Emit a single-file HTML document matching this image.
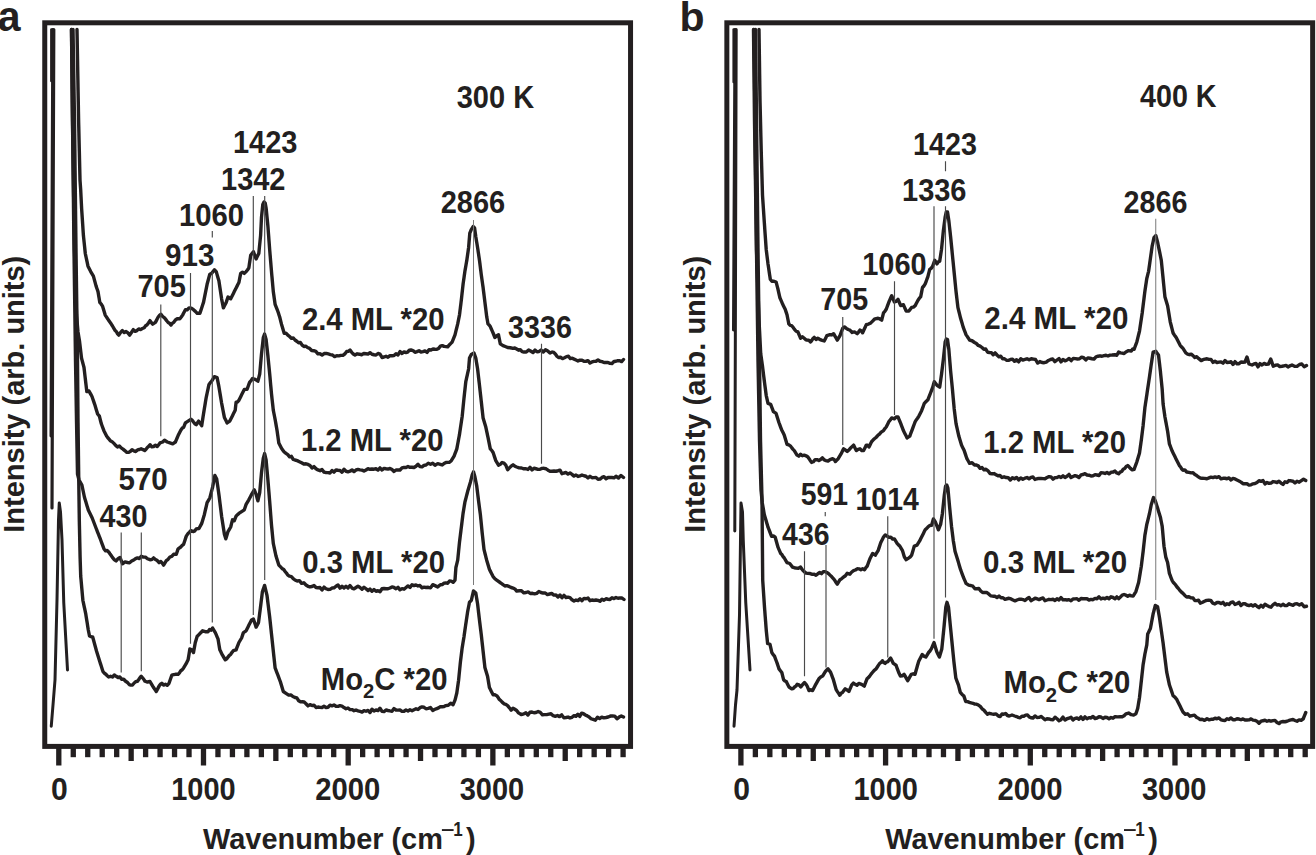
<!DOCTYPE html><html><head><meta charset="utf-8"><style>html,body{margin:0;padding:0;background:#fff;}svg{display:block;}</style></head><body>
<svg width="1316" height="855" viewBox="0 0 1316 855" font-family="&quot;Liberation Sans&quot;, sans-serif" font-weight="bold" fill="#231f20">
<rect x="44.75" y="22.8" width="585.8" height="723.6" fill="none" stroke="#231f20" stroke-width="5"/>
<rect x="56.15" y="748" width="5.3" height="17.5"/>
<rect x="70.62" y="748" width="5.3" height="9.2"/>
<rect x="85.09" y="748" width="5.3" height="9.2"/>
<rect x="99.56" y="748" width="5.3" height="9.2"/>
<rect x="114.03" y="748" width="5.3" height="9.2"/>
<rect x="128.5" y="748" width="5.3" height="13"/>
<rect x="142.96" y="748" width="5.3" height="9.2"/>
<rect x="157.43" y="748" width="5.3" height="9.2"/>
<rect x="171.9" y="748" width="5.3" height="9.2"/>
<rect x="186.37" y="748" width="5.3" height="9.2"/>
<rect x="200.84" y="748" width="5.3" height="17.5"/>
<rect x="215.31" y="748" width="5.3" height="9.2"/>
<rect x="229.78" y="748" width="5.3" height="9.2"/>
<rect x="244.25" y="748" width="5.3" height="9.2"/>
<rect x="258.72" y="748" width="5.3" height="9.2"/>
<rect x="273.19" y="748" width="5.3" height="13"/>
<rect x="287.65" y="748" width="5.3" height="9.2"/>
<rect x="302.12" y="748" width="5.3" height="9.2"/>
<rect x="316.59" y="748" width="5.3" height="9.2"/>
<rect x="331.06" y="748" width="5.3" height="9.2"/>
<rect x="345.53" y="748" width="5.3" height="17.5"/>
<rect x="360" y="748" width="5.3" height="9.2"/>
<rect x="374.47" y="748" width="5.3" height="9.2"/>
<rect x="388.94" y="748" width="5.3" height="9.2"/>
<rect x="403.41" y="748" width="5.3" height="9.2"/>
<rect x="417.88" y="748" width="5.3" height="13"/>
<rect x="432.34" y="748" width="5.3" height="9.2"/>
<rect x="446.81" y="748" width="5.3" height="9.2"/>
<rect x="461.28" y="748" width="5.3" height="9.2"/>
<rect x="475.75" y="748" width="5.3" height="9.2"/>
<rect x="490.22" y="748" width="5.3" height="17.5"/>
<rect x="504.69" y="748" width="5.3" height="9.2"/>
<rect x="519.16" y="748" width="5.3" height="9.2"/>
<rect x="533.63" y="748" width="5.3" height="9.2"/>
<rect x="548.1" y="748" width="5.3" height="9.2"/>
<rect x="562.57" y="748" width="5.3" height="13"/>
<rect x="577.03" y="748" width="5.3" height="9.2"/>
<rect x="591.5" y="748" width="5.3" height="9.2"/>
<rect x="605.97" y="748" width="5.3" height="9.2"/>
<rect x="620.44" y="748" width="5.3" height="9.2"/>
<text transform="translate(203.1,848.5) scale(0.997,1.03)" font-size="29">Wavenumber (cm</text>
<rect x="441.9" y="829.1" width="11.7" height="1.9"/>
<text x="-6" y="0" font-size="20" transform="translate(458.35,835.5) scale(0.85,1.04)">1</text>
<text x="466.1" y="848.5" font-size="29" transform="scale(1,1.0)">)</text>
<text transform="translate(23.9,532.7) rotate(-90) scale(1,1.03)" font-size="29">Intensity (arb. units)</text>
<rect x="726.85" y="22.8" width="585.8" height="723.6" fill="none" stroke="#231f20" stroke-width="5"/>
<rect x="738.25" y="748" width="5.3" height="17.5"/>
<rect x="752.72" y="748" width="5.3" height="9.2"/>
<rect x="767.19" y="748" width="5.3" height="9.2"/>
<rect x="781.66" y="748" width="5.3" height="9.2"/>
<rect x="796.13" y="748" width="5.3" height="9.2"/>
<rect x="810.6" y="748" width="5.3" height="13"/>
<rect x="825.06" y="748" width="5.3" height="9.2"/>
<rect x="839.53" y="748" width="5.3" height="9.2"/>
<rect x="854" y="748" width="5.3" height="9.2"/>
<rect x="868.47" y="748" width="5.3" height="9.2"/>
<rect x="882.94" y="748" width="5.3" height="17.5"/>
<rect x="897.41" y="748" width="5.3" height="9.2"/>
<rect x="911.88" y="748" width="5.3" height="9.2"/>
<rect x="926.35" y="748" width="5.3" height="9.2"/>
<rect x="940.82" y="748" width="5.3" height="9.2"/>
<rect x="955.28" y="748" width="5.3" height="13"/>
<rect x="969.75" y="748" width="5.3" height="9.2"/>
<rect x="984.22" y="748" width="5.3" height="9.2"/>
<rect x="998.69" y="748" width="5.3" height="9.2"/>
<rect x="1013.16" y="748" width="5.3" height="9.2"/>
<rect x="1027.63" y="748" width="5.3" height="17.5"/>
<rect x="1042.1" y="748" width="5.3" height="9.2"/>
<rect x="1056.57" y="748" width="5.3" height="9.2"/>
<rect x="1071.04" y="748" width="5.3" height="9.2"/>
<rect x="1085.51" y="748" width="5.3" height="9.2"/>
<rect x="1099.97" y="748" width="5.3" height="13"/>
<rect x="1114.44" y="748" width="5.3" height="9.2"/>
<rect x="1128.91" y="748" width="5.3" height="9.2"/>
<rect x="1143.38" y="748" width="5.3" height="9.2"/>
<rect x="1157.85" y="748" width="5.3" height="9.2"/>
<rect x="1172.32" y="748" width="5.3" height="17.5"/>
<rect x="1186.79" y="748" width="5.3" height="9.2"/>
<rect x="1201.26" y="748" width="5.3" height="9.2"/>
<rect x="1215.73" y="748" width="5.3" height="9.2"/>
<rect x="1230.2" y="748" width="5.3" height="9.2"/>
<rect x="1244.66" y="748" width="5.3" height="13"/>
<rect x="1259.13" y="748" width="5.3" height="9.2"/>
<rect x="1273.6" y="748" width="5.3" height="9.2"/>
<rect x="1288.07" y="748" width="5.3" height="9.2"/>
<rect x="1302.54" y="748" width="5.3" height="9.2"/>
<text transform="translate(885.2,848.5) scale(0.997,1.03)" font-size="29">Wavenumber (cm</text>
<rect x="1124" y="829.1" width="11.7" height="1.9"/>
<text x="-6" y="0" font-size="20" transform="translate(1140.45,835.5) scale(0.85,1.04)">1</text>
<text x="1148.2" y="848.5" font-size="29" transform="scale(1,1.0)">)</text>
<text transform="translate(704.9,532.7) rotate(-90) scale(1,1.03)" font-size="29">Intensity (arb. units)</text>
<text transform="translate(-2.2,31.1) scale(1,1.04)" font-size="41">a</text>
<text transform="translate(679.5,31) scale(1,1)" font-size="41">b</text>
<path d="M53.8 29.5 L52 508" fill="none" stroke="#231f20" stroke-width="3.2" stroke-linejoin="round" stroke-linecap="round"/>
<path d="M52.8 29.5 L51 436" fill="none" stroke="#231f20" stroke-width="3" stroke-linejoin="round" stroke-linecap="round"/>
<path d="M51.4 29.5 L51.4 81" fill="none" stroke="#231f20" stroke-width="2.6" stroke-linejoin="round" stroke-linecap="round"/>
<path d="M736.2 29.5 L734.8 531" fill="none" stroke="#231f20" stroke-width="3" stroke-linejoin="round" stroke-linecap="round"/>
<path d="M735 29.5 L733.5 330" fill="none" stroke="#231f20" stroke-width="3" stroke-linejoin="round" stroke-linecap="round"/>
<path d="M733.6 29.5 L733.6 82" fill="none" stroke="#231f20" stroke-width="2.4" stroke-linejoin="round" stroke-linecap="round"/>
<path d="M51.25 726.25 L53 705 L55 680 L57 600 L58.5 520 L59.25 503 L60.5 512 L62 540 L63.75 602.5 L67.5 670" fill="none" stroke="#231f20" stroke-width="3" stroke-linejoin="round" stroke-linecap="round"/>
<path d="M734 726.25 L735.5 705 L737 690 L739.5 615 L740.5 540 L741 503 L742.5 512 L743.25 540 L745.75 602.5 L750 670" fill="none" stroke="#231f20" stroke-width="3" stroke-linejoin="round" stroke-linecap="round"/>
<path d="M73 29.5 L73.04 31.71 L73.07 33.91 L73.11 36.12 L73.15 38.33 L73.18 40.54 L73.22 42.74 L73.26 44.95 L73.29 47.16 L73.33 49.37 L73.37 51.57 L73.4 53.78 L73.44 55.99 L73.48 58.2 L73.51 60.4 L73.55 62.61 L73.59 64.82 L73.62 67.02 L73.66 69.23 L73.7 71.44 L73.73 73.65 L73.77 75.85 L73.8 78.06 L73.84 80.27 L73.88 82.48 L73.91 84.68 L73.95 86.89 L73.99 89.1 L74.02 91.3 L74.06 93.51 L74.1 95.72 L74.13 97.93 L74.17 100.13 L74.21 102.34 L74.24 104.55 L74.28 106.76 L74.32 108.96 L74.35 111.17 L74.39 113.38 L74.43 115.59 L74.46 117.79 L74.5 120 L74.53 122.2 L74.55 124.41 L74.58 126.61 L74.6 128.81 L74.63 131.02 L74.65 133.22 L74.68 135.42 L74.7 137.63 L74.73 139.83 L74.75 142.03 L74.78 144.24 L74.81 146.44 L74.83 148.64 L74.86 150.85 L74.88 153.05 L74.91 155.25 L74.93 157.46 L74.96 159.66 L74.98 161.86 L75.01 164.07 L75.03 166.27 L75.06 168.47 L75.08 170.68 L75.11 172.88 L75.14 175.08 L75.16 177.29 L75.19 179.49 L75.21 181.69 L75.24 183.9 L75.26 186.1 L75.29 188.31 L75.31 190.51 L75.34 192.71 L75.36 194.92 L75.39 197.12 L75.42 199.32 L75.44 201.53 L75.47 203.73 L75.49 205.93 L75.52 208.14 L75.54 210.34 L75.57 212.54 L75.59 214.75 L75.62 216.95 L75.64 219.15 L75.67 221.36 L75.69 223.56 L75.72 225.76 L75.75 227.97 L75.77 230.17 L75.8 232.37 L75.82 234.58 L75.85 236.78 L75.87 238.98 L75.9 241.19 L75.92 243.39 L75.95 245.59 L75.97 247.8 L76 250 L76.03 252.2 L76.06 254.4 L76.09 256.6 L76.12 258.8 L76.15 261 L76.18 263.2 L76.21 265.4 L76.24 267.6 L76.27 269.8 L76.3 272 L76.33 274.2 L76.36 276.4 L76.39 278.6 L76.42 280.8 L76.45 283 L76.48 285.2 L76.51 287.4 L76.54 289.6 L76.57 291.8 L76.6 294 L76.63 296.2 L76.66 298.4 L76.69 300.6 L76.72 302.8 L76.75 305 L76.78 307.2 L76.81 309.4 L76.84 311.6 L76.87 313.8 L76.9 316 L76.93 318.2 L76.96 320.4 L76.99 322.6 L77.02 324.8 L77.05 327 L77.08 329.2 L77.11 331.4 L77.14 333.6 L77.17 335.8 L77.2 338 L77.23 340.2 L77.26 342.4 L77.29 344.6 L77.32 346.8 L77.35 349 L77.38 351.2 L77.41 353.4 L77.44 355.6 L77.47 357.8 L77.5 360 L77.52 362.22 L77.54 364.44 L77.56 366.67 L77.57 368.89 L77.59 371.11 L77.61 373.33 L77.63 375.56 L77.65 377.78 L77.67 380 L77.69 382.22 L77.7 384.44 L77.72 386.67 L77.74 388.89 L77.76 391.11 L77.78 393.33 L77.8 395.56 L77.81 397.78 L77.83 400 L77.85 402.22 L77.87 404.44 L77.89 406.67 L77.91 408.89 L77.93 411.11 L77.94 413.33 L77.96 415.56 L77.98 417.78 L78 420 L78.03 422.21 L78.06 424.41 L78.08 426.62 L78.11 428.83 L78.14 431.03 L78.17 433.24 L78.19 435.45 L78.22 437.66 L78.25 439.86 L78.28 442.07 L78.3 444.28 L78.33 446.48 L78.36 448.69 L78.39 450.9 L78.41 453.1 L78.44 455.31 L78.47 457.52 L78.5 459.72 L78.52 461.93 L78.55 464.14 L78.58 466.34 L78.61 468.55 L78.63 470.76 L78.66 472.97 L78.69 475.17 L78.72 477.38 L78.74 479.59 L78.77 481.79 L78.8 484 L78.83 486.25 L78.86 488.5 L78.89 490.75 L78.92 493 L78.96 495.25 L78.99 497.5 L79.02 499.75 L79.05 502 L79.08 504.25 L79.11 506.5 L79.14 508.75 L79.17 511 L79.21 513.25 L79.24 515.5 L79.27 517.75 L79.3 520 L79.35 522.18 L79.39 524.35 L79.44 526.53 L79.49 528.71 L79.54 530.88 L79.58 533.06 L79.63 535.24 L79.68 537.41 L79.72 539.59 L79.77 541.76 L79.82 543.94 L79.86 546.12 L79.91 548.29 L79.96 550.47 L80.01 552.65 L80.05 554.82 L80.1 557 L80.17 559.11 L80.23 561.22 L80.3 563.33 L80.37 565.44 L80.43 567.56 L80.5 569.67 L80.57 571.78 L80.63 573.89 L80.7 576 L80.9 578.23 L81.1 580.45 L81.3 582.68 L81.5 584.91 L81.7 587.14 L81.9 589.36 L82.1 591.59 L82.3 593.82 L82.5 596.05 L82.7 598.27 L82.9 600.5 L83.37 602.68 L83.83 604.87 L84.3 607.05 L84.77 609.23 L85.23 611.42 L85.7 613.6 L86.03 615.65 L86.35 617.7 L86.67 619.75 L87 621.8 L87.33 623.85 L87.65 625.9 L87.97 627.95 L88.3 630 L88.7 632 L89.1 634 L89.5 636 L91.1 636.68 L92.7 637 L93.24 639 L93.79 641 L94.33 643 L94.87 645 L95.41 647 L95.96 649 L96.5 651 L97.2 653.25 L97.9 655.5 L98.6 657.75 L99.3 660 L99.92 661.93 L100.53 663.87 L101.15 665.8 L101.77 667.73 L102.38 669.67 L103 671.6 L104.42 673.26 L105.85 674.22 L107.28 675.7 L108.7 677 L110.57 676.27 L112.43 677.04 L114.3 675 L116.17 676.29 L118.03 677.5 L119.9 677 L121.8 679.34 L123.7 679.22 L125.6 681.26 L127.5 682.5 L129.17 684.55 L130.83 685.1 L132.5 685 L134.17 682.98 L135.83 681.7 L137.5 681.25 L138.75 679.54 L140 677.63 L141.25 676.25 L142.5 677.74 L143.75 679.3 L145 681.25 L147.5 682.03 L150 681.5 L151.35 683.8 L152.7 686.1 L153.9 688 L155.1 689.61 L156.3 691.5 L157.23 689.7 L158.17 687.9 L159.1 686.1 L160.45 684.2 L161.8 683.3 L163.6 685.07 L165.4 684.3 L167.2 685.35 L169 683.3 L169.7 681.27 L170.4 679.25 L171.1 677.23 L171.8 675.2 L173.6 674.71 L175.4 674.3 L178.1 674.3 L179.45 672.83 L180.8 670.7 L182.2 669.8 L183.6 667.9 L184.95 665.65 L186.3 663.4 L187.2 661.6 L188.1 659.8 L188.46 657.62 L188.82 655.44 L189.18 653.26 L189.54 651.08 L189.9 648.9 L191.7 649.8 L193.5 652.5 L193.86 650.5 L194.22 648.5 L194.58 646.5 L194.94 644.5 L195.3 642.5 L195.93 640.4 L196.57 638.3 L197.2 636.2 L198.55 635.04 L199.9 633.5 L201.25 632.17 L202.6 630.8 L205.3 631.7 L208 631.7 L209.53 629.6 L211.07 630.2 L212.6 628 L213.95 630.3 L215.3 632.6 L216.2 634.7 L217.1 636.8 L218 638.9 L218.36 641.08 L218.72 643.26 L219.08 645.44 L219.44 647.62 L219.8 649.8 L220.7 651.6 L221.6 653.4 L222.5 655.2 L223.9 657.5 L225.3 659.8 L226.65 658.93 L228 657.1 L229.35 655.36 L230.7 654.3 L232.05 652.27 L233.4 650.7 L236.1 649.8 L236.8 647.97 L237.5 646.15 L238.2 644.33 L238.9 642.5 L240.25 640.25 L241.6 638 L242.2 636.2 L242.8 634.4 L243.4 632.6 L246.1 630.8 L247 628.97 L247.9 627.13 L248.8 625.3 L249.73 623.5 L250.67 621.7 L251.6 619.9 L253.4 619 L254.08 621.02 L254.75 623.05 L255.43 625.08 L256.1 627.1 L257.3 624.85 L258.5 622.6 L258.8 620.27 L259.1 617.94 L259.4 615.61 L259.7 613.29 L260 610.96 L260.3 608.63 L260.6 606.3 L260.86 604.23 L261.11 602.16 L261.37 600.09 L261.63 598.01 L261.89 595.94 L262.14 593.87 L262.4 591.8 L263.13 589.67 L263.87 587.53 L264.6 585.4 L265.08 587.4 L265.56 589.4 L266.04 591.4 L266.52 593.4 L267 595.4 L267.27 597.58 L267.54 599.76 L267.81 601.94 L268.08 604.12 L268.35 606.3 L268.62 608.48 L268.89 610.66 L269.16 612.84 L269.43 615.02 L269.7 617.2 L269.93 619.31 L270.15 621.42 L270.38 623.53 L270.6 625.63 L270.82 627.74 L271.05 629.85 L271.27 631.96 L271.5 634.07 L271.72 636.17 L271.95 638.28 L272.17 640.39 L272.4 642.5 L272.62 644.62 L272.85 646.73 L273.07 648.85 L273.3 650.97 L273.52 653.08 L273.75 655.2 L273.98 657.32 L274.2 659.43 L274.43 661.55 L274.65 663.67 L274.88 665.78 L275.1 667.9 L275.8 669.73 L276.5 671.55 L277.2 673.38 L277.9 675.2 L278.8 677.6 L279.7 680 L280.6 682.4 L281.28 684.67 L281.95 686.95 L282.62 689.23 L283.3 691.5 L286 693.3 L288.7 695.1 L290.8 694.86 L292.9 696.53 L295 697.5 L296.83 697.93 L298.67 700.77 L300.5 701.84 L302.33 701.79 L304.17 702.05 L306 703.75 L308 705.93 L310 704.67 L312 705.56 L314 705.22 L316 707.5 L318 707.03 L320 707.4 L322 707.51 L324 706.3 L326 707.5 L328 707.27 L330 705.17 L332 705.88 L334 704.99 L336 706.25 L338 706.41 L340 705.7 L342 706.14 L344 707.59 L346 708.75 L348 708.01 L350 709.57 L352 709.61 L354 710.67 L356 710 L358 710.83 L360 711.3 L362 712.15 L364 710.59 L366 711.25 L368 710.36 L370 712.54 L372 709.21 L374 711.08 L376 710 L378 710.57 L380 708.18 L382 711.34 L384 711.57 L386 710 L388 710.51 L390 710.94 L392 711.25 L394 708.56 L396 710 L398 710.1 L400 710.02 L402 711.34 L404 711.22 L406 710 L408 710.95 L410 709.81 L412 710.7 L414 709.67 L416 708.75 L418 709.52 L420 707.67 L422 706.87 L424 707.28 L426 708.75 L428.25 708.35 L430.5 707.51 L432.75 710.45 L435 709.3 L436.8 708.56 L438.6 707.85 L440.4 706.6 L442.23 706.71 L444.07 706.57 L445.9 705.6 L448.3 705.26 L450.7 703.17 L453.1 704.7 L454.05 702.45 L455 700.2 L455.6 697.8 L456.2 695.4 L456.8 693 L457.1 690.87 L457.4 688.73 L457.7 686.6 L458 684.47 L458.3 682.33 L458.6 680.2 L458.83 677.94 L459.05 675.68 L459.27 673.41 L459.5 671.15 L459.73 668.89 L459.95 666.62 L460.17 664.36 L460.4 662.1 L460.66 660.03 L460.91 657.96 L461.17 655.89 L461.43 653.81 L461.69 651.74 L461.94 649.67 L462.2 647.6 L462.56 645.42 L462.92 643.24 L463.28 641.06 L463.64 638.88 L464 636.7 L464.3 634.58 L464.6 632.47 L464.9 630.35 L465.2 628.23 L465.5 626.12 L465.8 624 L466.12 621.88 L466.43 619.77 L466.75 617.65 L467.07 615.53 L467.38 613.42 L467.7 611.3 L468.15 609.02 L468.6 606.75 L469.05 604.48 L469.5 602.2 L471.3 600.4 L471.85 598.05 L472.4 595.7 L472.95 593.35 L473.5 591 L475.8 593.1 L476.16 595.28 L476.52 597.46 L476.88 599.64 L477.24 601.82 L477.6 604 L477.84 606.05 L478.08 608.1 L478.31 610.15 L478.55 612.2 L478.79 614.25 L479.02 616.3 L479.26 618.35 L479.5 620.4 L479.76 622.47 L480.01 624.54 L480.27 626.61 L480.53 628.69 L480.79 630.76 L481.04 632.83 L481.3 634.9 L481.56 637.23 L481.81 639.56 L482.07 641.89 L482.33 644.21 L482.59 646.54 L482.84 648.87 L483.1 651.2 L483.36 653.53 L483.61 655.86 L483.87 658.19 L484.13 660.51 L484.39 662.84 L484.64 665.17 L484.9 667.5 L485.57 669.77 L486.25 672.05 L486.93 674.33 L487.6 676.6 L487.96 678.78 L488.32 680.96 L488.68 683.14 L489.04 685.32 L489.4 687.5 L490.32 689.33 L491.25 691.15 L492.18 692.97 L493.1 694.8 L494.9 694.82 L496.7 695.7 L497.9 697.11 L499.1 699.14 L500.3 700.2 L502.15 702.14 L504 703.8 L505.8 704.32 L507.6 705.6 L508.8 707.08 L510 708.49 L511.2 710.2 L513 708.23 L514.8 709.3 L516.65 710.48 L518.5 712.9 L521.2 714.55 L523.9 713.8 L525.92 712.78 L527.93 714.99 L529.95 712.21 L531.97 712.06 L533.98 712.76 L536 712.5 L538.14 711.5 L540.29 712.38 L542.43 714.77 L544.57 714.67 L546.71 714.58 L548.86 714.07 L551 713.75 L553.14 715.68 L555.29 716.31 L557.43 715.52 L559.57 716.63 L561.71 714.91 L563.86 717.75 L566 717.5 L568 717.07 L570 717.93 L572 717.28 L574 715.71 L576 716.25 L577.88 714.2 L579.75 716.35 L581.62 713.19 L583.5 713.75 L585.38 714.94 L587.25 715.89 L589.12 717.03 L591 718.75 L593.14 719.48 L595.29 720.2 L597.43 717.3 L599.57 718.63 L601.71 717.1 L603.86 717.9 L606 717.5 L608.19 717.02 L610.38 716.07 L612.56 715.98 L614.75 716.1 L616.94 718.78 L619.12 717.11 L621.31 715.96 L623.5 717" fill="none" stroke="#231f20" stroke-width="3.4" stroke-linejoin="round" stroke-linecap="round"/>
<path d="M71.5 29.5 L71.52 31.71 L71.55 33.91 L71.57 36.12 L71.6 38.33 L71.62 40.54 L71.65 42.74 L71.67 44.95 L71.7 47.16 L71.72 49.37 L71.74 51.57 L71.77 53.78 L71.79 55.99 L71.82 58.2 L71.84 60.4 L71.87 62.61 L71.89 64.82 L71.91 67.02 L71.94 69.23 L71.96 71.44 L71.99 73.65 L72.01 75.85 L72.04 78.06 L72.06 80.27 L72.09 82.48 L72.11 84.68 L72.13 86.89 L72.16 89.1 L72.18 91.3 L72.21 93.51 L72.23 95.72 L72.26 97.93 L72.28 100.13 L72.3 102.34 L72.33 104.55 L72.35 106.76 L72.38 108.96 L72.4 111.17 L72.43 113.38 L72.45 115.59 L72.48 117.79 L72.5 120 L72.53 122.2 L72.55 124.41 L72.58 126.61 L72.6 128.81 L72.63 131.02 L72.65 133.22 L72.68 135.42 L72.7 137.63 L72.73 139.83 L72.75 142.03 L72.78 144.24 L72.81 146.44 L72.83 148.64 L72.86 150.85 L72.88 153.05 L72.91 155.25 L72.93 157.46 L72.96 159.66 L72.98 161.86 L73.01 164.07 L73.03 166.27 L73.06 168.47 L73.08 170.68 L73.11 172.88 L73.14 175.08 L73.16 177.29 L73.19 179.49 L73.21 181.69 L73.24 183.9 L73.26 186.1 L73.29 188.31 L73.31 190.51 L73.34 192.71 L73.36 194.92 L73.39 197.12 L73.42 199.32 L73.44 201.53 L73.47 203.73 L73.49 205.93 L73.52 208.14 L73.54 210.34 L73.57 212.54 L73.59 214.75 L73.62 216.95 L73.64 219.15 L73.67 221.36 L73.69 223.56 L73.72 225.76 L73.75 227.97 L73.77 230.17 L73.8 232.37 L73.82 234.58 L73.85 236.78 L73.87 238.98 L73.9 241.19 L73.92 243.39 L73.95 245.59 L73.97 247.8 L74 250 L74.03 252.2 L74.06 254.4 L74.09 256.6 L74.12 258.8 L74.15 261 L74.18 263.2 L74.21 265.4 L74.24 267.6 L74.27 269.8 L74.3 272 L74.33 274.2 L74.36 276.4 L74.39 278.6 L74.42 280.8 L74.45 283 L74.48 285.2 L74.51 287.4 L74.54 289.6 L74.57 291.8 L74.6 294 L74.63 296.2 L74.66 298.4 L74.69 300.6 L74.72 302.8 L74.75 305 L74.78 307.2 L74.81 309.4 L74.84 311.6 L74.87 313.8 L74.9 316 L74.93 318.2 L74.96 320.4 L74.99 322.6 L75.02 324.8 L75.05 327 L75.08 329.2 L75.11 331.4 L75.14 333.6 L75.17 335.8 L75.2 338 L75.23 340.2 L75.26 342.4 L75.29 344.6 L75.32 346.8 L75.35 349 L75.38 351.2 L75.41 353.4 L75.44 355.6 L75.47 357.8 L75.5 360 L75.54 362.22 L75.57 364.44 L75.61 366.67 L75.65 368.89 L75.69 371.11 L75.72 373.33 L75.76 375.56 L75.8 377.78 L75.83 380 L75.87 382.22 L75.91 384.44 L75.94 386.67 L75.98 388.89 L76.02 391.11 L76.06 393.33 L76.09 395.56 L76.13 397.78 L76.17 400 L76.2 402.22 L76.24 404.44 L76.28 406.67 L76.31 408.89 L76.35 411.11 L76.39 413.33 L76.43 415.56 L76.46 417.78 L76.5 420 L76.54 422.16 L76.58 424.32 L76.62 426.48 L76.66 428.64 L76.7 430.8 L76.74 432.96 L76.78 435.12 L76.82 437.28 L76.86 439.44 L76.9 441.6 L76.94 443.76 L76.98 445.92 L77.02 448.08 L77.06 450.24 L77.1 452.4 L77.14 454.56 L77.18 456.72 L77.22 458.88 L77.26 461.04 L77.3 463.2 L77.34 465.36 L77.38 467.52 L77.42 469.68 L77.46 471.84 L77.5 474 L78 476 L78.5 478 L79 480 L79.97 481.67 L80.93 483.33 L81.9 485 L82.32 487 L82.73 489 L83.15 491 L83.57 493 L83.98 495 L84.4 497 L85.05 499.17 L85.7 501.33 L86.35 503.5 L87 505.67 L87.65 507.83 L88.3 510 L89.28 512 L90.25 514 L91.22 516 L92.2 518 L92.96 520 L93.72 522 L94.48 524 L95.24 526 L96 528 L96.84 530.14 L97.68 532.28 L98.52 534.42 L99.36 536.56 L100.2 538.7 L100.96 540.76 L101.72 542.82 L102.48 544.88 L103.24 546.94 L104 549 L105.57 550.82 L107.13 550.5 L108.7 552 L109.93 553.82 L111.17 555.56 L112.4 557.4 L114.25 559.57 L116.1 561 L118.05 558.72 L120 557.5 L120.83 559.58 L121.67 561.67 L122.5 563.75 L125 561.95 L127.5 562.5 L129.58 562.82 L131.67 561.07 L133.75 560 L135.62 558.58 L137.5 557.84 L139.38 558.54 L141.25 556.25 L143.33 557.11 L145.42 557.11 L147.5 558.75 L150 559.7 L151.8 559.65 L153.6 557.9 L155.45 559.58 L157.3 560.6 L159.1 562.71 L160.9 561.5 L162.25 563.03 L163.6 565.1 L164.95 562.85 L166.3 560.6 L168.1 559.28 L169.9 557 L171.75 556.39 L173.6 554.3 L176.3 554.3 L176.9 552.47 L177.5 550.63 L178.1 548.8 L180.8 547 L182.2 545.32 L183.6 544.3 L184.28 542.25 L184.95 540.2 L185.62 538.15 L186.3 536.1 L188.1 533.4 L189.45 532.17 L190.8 530.7 L193.5 531.6 L194.85 530.9 L196.2 528.9 L199 528.5 L199.9 526.8 L200.8 525.1 L201.7 523.4 L202.38 521.15 L203.05 518.9 L203.72 516.65 L204.4 514.4 L204.85 512.43 L205.3 510.47 L205.75 508.5 L206.2 506.53 L206.65 504.57 L207.1 502.6 L208.45 500.3 L209.8 498 L210.36 495.84 L210.92 493.68 L211.48 491.52 L212.04 489.36 L212.6 487.2 L213.06 484.84 L213.52 482.48 L213.98 480.12 L214.44 477.76 L214.9 475.4 L215.8 477.2 L216.7 479 L217.01 481.2 L217.33 483.4 L217.64 485.6 L217.96 487.8 L218.27 490 L218.59 492.2 L218.9 494.4 L219.17 496.58 L219.44 498.76 L219.71 500.94 L219.98 503.12 L220.25 505.3 L220.52 507.48 L220.79 509.66 L221.06 511.84 L221.33 514.02 L221.6 516.2 L221.95 518.46 L222.3 520.73 L222.65 522.99 L223 525.25 L223.35 527.51 L223.7 529.77 L224.05 532.04 L224.4 534.3 L225.1 536.55 L225.8 538.8 L226.53 536.4 L227.27 534 L228 531.6 L229.35 529.3 L230.7 527 L231.3 524.6 L231.9 522.2 L232.5 519.8 L234.3 520.7 L235.2 518.45 L236.1 516.2 L237.5 514.69 L238.9 513.4 L241.6 511.6 L244.3 509.8 L244.9 508 L245.5 506.2 L246.1 504.4 L247.45 502.1 L248.8 499.8 L249.73 498 L250.67 496.2 L251.6 494.4 L252.95 492.15 L254.3 489.9 L255.2 492.15 L256.1 494.4 L256.7 496.53 L257.3 498.67 L257.9 500.8 L258.35 498.75 L258.8 496.7 L259.25 494.65 L259.7 492.6 L259.9 490.38 L260.1 488.16 L260.3 485.93 L260.5 483.71 L260.7 481.49 L260.9 479.27 L261.1 477.04 L261.3 474.82 L261.5 472.6 L261.76 470.53 L262.01 468.46 L262.27 466.39 L262.53 464.31 L262.79 462.24 L263.04 460.17 L263.3 458.1 L263.95 455.85 L264.6 453.6 L265.1 455.73 L265.6 457.87 L266.1 460 L266.3 462.21 L266.5 464.42 L266.7 466.63 L266.9 468.84 L267.1 471.06 L267.3 473.27 L267.5 475.48 L267.7 477.69 L267.9 479.9 L268.08 482.08 L268.26 484.26 L268.44 486.44 L268.62 488.62 L268.8 490.8 L268.98 492.98 L269.16 495.16 L269.34 497.34 L269.52 499.52 L269.7 501.7 L269.86 503.84 L270.03 505.97 L270.19 508.11 L270.35 510.25 L270.52 512.38 L270.68 514.52 L270.85 516.65 L271.01 518.79 L271.17 520.93 L271.34 523.06 L271.5 525.2 L271.73 527.48 L271.95 529.75 L272.18 532.02 L272.4 534.3 L272.62 536.58 L272.85 538.85 L273.07 541.12 L273.3 543.4 L273.75 545.52 L274.2 547.63 L274.65 549.75 L275.1 551.87 L275.55 553.98 L276 556.1 L276.7 558.35 L277.4 560.6 L278.1 562.85 L278.8 565.1 L280.6 566.91 L282.4 568.8 L283.75 569.56 L285.1 571.5 L286.45 573.05 L287.8 575.1 L289.6 576.17 L291.4 576.61 L293.2 578.64 L295 580 L297.2 581.03 L299.4 580.68 L301.6 583.39 L303.8 582.8 L306 585 L308 586.29 L310 586.94 L312 586.54 L314 585.5 L316 587.5 L318 587.76 L320 587.55 L322 589.91 L324 587.16 L326 588.75 L328 589.46 L330 589.42 L332 588.03 L334 587.81 L336 586.25 L338 585.02 L340 588.18 L342 586.22 L344 588.08 L346 586.25 L348 588.03 L350 585.52 L352 588.06 L354 588.84 L356 587.5 L358 586.15 L360 587.45 L362 589.19 L364 587.24 L366 588.75 L368 590.59 L370 588.99 L372 591.32 L374 589.55 L376 591.25 L378 590.76 L380 591.67 L382 588.77 L384 588.45 L386 588.75 L388 588.77 L390 588.03 L392 586.9 L394 587.48 L396 588.75 L398 587.25 L400 589.86 L402 588.66 L404 589.21 L406 587.5 L408 585.88 L410 587.46 L412 584.7 L414 585.6 L416 585 L418 585.96 L420 585.53 L422 587.76 L424 587.19 L426 587.5 L428.25 587.3 L430.5 587.88 L432.75 584.7 L435 585.6 L437.7 586.92 L440.4 584.7 L442.23 584.51 L444.07 583.16 L445.9 582.9 L447.7 583.24 L449.5 580.96 L451.3 581.1 L453.15 582.31 L455 580.2 L455.15 578.08 L455.3 575.97 L455.45 573.85 L455.6 571.73 L455.75 569.62 L455.9 567.5 L456.5 565.07 L457.1 562.63 L457.7 560.2 L457.93 557.94 L458.15 555.68 L458.38 553.41 L458.6 551.15 L458.82 548.89 L459.05 546.62 L459.27 544.36 L459.5 542.1 L459.76 540.03 L460.01 537.96 L460.27 535.89 L460.53 533.81 L460.79 531.74 L461.04 529.67 L461.3 527.6 L461.56 525.53 L461.81 523.46 L462.07 521.39 L462.33 519.31 L462.59 517.24 L462.84 515.17 L463.1 513.1 L463.46 510.92 L463.82 508.74 L464.18 506.56 L464.54 504.38 L464.9 502.2 L465.46 500.02 L466.02 497.84 L466.58 495.66 L467.14 493.48 L467.7 491.3 L468.38 489.02 L469.05 486.75 L469.72 484.48 L470.4 482.2 L471 479.8 L471.6 477.4 L472.2 475 L472.85 473.4 L473.5 471.8 L474.2 474.3 L474.9 476.8 L475.35 479.05 L475.8 481.3 L476.25 483.55 L476.7 485.8 L476.96 487.89 L477.21 489.97 L477.47 492.06 L477.73 494.14 L477.99 496.23 L478.24 498.31 L478.5 500.4 L478.77 502.47 L479.04 504.54 L479.31 506.61 L479.59 508.69 L479.86 510.76 L480.13 512.83 L480.4 514.9 L480.62 517.16 L480.85 519.42 L481.07 521.69 L481.3 523.95 L481.52 526.21 L481.75 528.48 L481.97 530.74 L482.2 533 L482.46 535.34 L482.71 537.69 L482.97 540.03 L483.23 542.37 L483.49 544.71 L483.74 547.06 L484 549.4 L484.54 551.56 L485.08 553.72 L485.62 555.88 L486.16 558.04 L486.7 560.2 L487.38 562.48 L488.05 564.75 L488.72 567.02 L489.4 569.3 L490.32 571.12 L491.25 572.95 L492.18 574.77 L493.1 576.6 L494.9 578.77 L496.7 580.2 L499.4 582 L501.2 583.28 L503 584.7 L504.85 585.97 L506.7 585.6 L508.95 586.41 L511.2 587.5 L513.03 588.05 L514.87 588.97 L516.7 591.1 L519.1 590.8 L521.5 590.74 L523.9 592.9 L526 592.5 L528.14 591.84 L530.29 593.5 L532.43 593.28 L534.57 593.88 L536.71 593.35 L538.86 591.56 L541 592.5 L543.14 593.05 L545.29 592.99 L547.43 594.61 L549.57 594.01 L551.71 593.44 L553.86 595.15 L556 595 L558 597.07 L560 595.04 L562 597.78 L564 595.36 L566 597.5 L568 597.19 L570 597.61 L572 599.82 L574 601 L576 600 L578 600.66 L580 598.86 L582 600.65 L584 598.37 L586 598.75 L588 598.04 L590 600.75 L592 599.98 L594 600.46 L596 600 L598 600.36 L600 601.27 L602 599.14 L604 600.25 L606 598.75 L608 599.23 L610 599.57 L612 597.77 L614 598.58 L616 597.5 L618 598.24 L620 597.85 L622 598.03 L624 599.5" fill="none" stroke="#231f20" stroke-width="3.4" stroke-linejoin="round" stroke-linecap="round"/>
<path d="M71.5 29.5 L71.52 31.71 L71.55 33.91 L71.57 36.12 L71.6 38.33 L71.62 40.54 L71.65 42.74 L71.67 44.95 L71.7 47.16 L71.72 49.37 L71.74 51.57 L71.77 53.78 L71.79 55.99 L71.82 58.2 L71.84 60.4 L71.87 62.61 L71.89 64.82 L71.91 67.02 L71.94 69.23 L71.96 71.44 L71.99 73.65 L72.01 75.85 L72.04 78.06 L72.06 80.27 L72.09 82.48 L72.11 84.68 L72.13 86.89 L72.16 89.1 L72.18 91.3 L72.21 93.51 L72.23 95.72 L72.26 97.93 L72.28 100.13 L72.3 102.34 L72.33 104.55 L72.35 106.76 L72.38 108.96 L72.4 111.17 L72.43 113.38 L72.45 115.59 L72.48 117.79 L72.5 120 L72.53 122.2 L72.57 124.41 L72.6 126.61 L72.64 128.81 L72.67 131.02 L72.7 133.22 L72.74 135.42 L72.77 137.63 L72.81 139.83 L72.84 142.03 L72.87 144.24 L72.91 146.44 L72.94 148.64 L72.97 150.85 L73.01 153.05 L73.04 155.25 L73.08 157.46 L73.11 159.66 L73.14 161.86 L73.18 164.07 L73.21 166.27 L73.25 168.47 L73.28 170.68 L73.31 172.88 L73.35 175.08 L73.38 177.29 L73.42 179.49 L73.45 181.69 L73.48 183.9 L73.52 186.1 L73.55 188.31 L73.58 190.51 L73.62 192.71 L73.65 194.92 L73.69 197.12 L73.72 199.32 L73.75 201.53 L73.79 203.73 L73.82 205.93 L73.86 208.14 L73.89 210.34 L73.92 212.54 L73.96 214.75 L73.99 216.95 L74.03 219.15 L74.06 221.36 L74.09 223.56 L74.13 225.76 L74.16 227.97 L74.19 230.17 L74.23 232.37 L74.26 234.58 L74.3 236.78 L74.33 238.98 L74.36 241.19 L74.4 243.39 L74.43 245.59 L74.47 247.8 L74.5 250 L74.57 252.17 L74.63 254.33 L74.7 256.5 L74.77 258.67 L74.83 260.83 L74.9 263 L74.97 265.17 L75.03 267.33 L75.1 269.5 L75.17 271.67 L75.23 273.83 L75.3 276 L75.37 278.17 L75.43 280.33 L75.5 282.5 L75.57 284.67 L75.63 286.83 L75.7 289 L75.77 291.17 L75.83 293.33 L75.9 295.5 L75.97 297.67 L76.03 299.83 L76.1 302 L76.17 304.17 L76.23 306.33 L76.3 308.5 L76.37 310.67 L76.43 312.83 L76.5 315 L76.69 317.12 L76.88 319.25 L77.06 321.38 L77.25 323.5 L77.44 325.62 L77.62 327.75 L77.81 329.88 L78 332 L78.38 334.25 L78.75 336.5 L79.12 338.75 L79.5 341 L79.75 343.12 L80 345.25 L80.25 347.38 L80.5 349.5 L80.75 351.62 L81 353.75 L81.25 355.88 L81.5 358 L82.12 360.38 L82.75 362.75 L83.38 365.12 L84 367.5 L84.26 369.71 L84.51 371.93 L84.77 374.14 L85.03 376.36 L85.29 378.57 L85.54 380.79 L85.8 383 L86.05 385.12 L86.3 387.25 L86.55 389.38 L86.8 391.5 L89 391 L90 392.83 L91 394.67 L92 396.5 L92.75 398.7 L93.5 400.9 L94.25 403.1 L95 405.3 L95.65 407.48 L96.3 409.65 L96.95 411.82 L97.6 414 L99.4 416.2 L100 418.6 L100.6 421 L101.2 423.4 L101.88 425.22 L102.55 427.05 L103.23 428.88 L103.9 430.7 L104.8 432.5 L105.7 434.3 L106.6 436.1 L107.83 437.76 L109.07 439.13 L110.3 440.7 L112.1 441.65 L113.9 443.4 L115.7 445.39 L117.5 447 L119.35 446.09 L121.2 447.9 L123 449.08 L124.8 450.6 L126.6 452.28 L128.4 452.4 L130.2 451.5 L132 449.7 L133.85 450.96 L135.7 451.5 L137.5 449.91 L139.3 449.49 L141.1 448.8 L142.9 449.58 L144.7 450.6 L146.02 449.27 L147.35 447.54 L148.68 446.39 L150 444.7 L151.8 446.78 L153.6 446.5 L155.45 445.23 L157.3 446.5 L158.65 444.8 L160 442.9 L162.7 442 L164.5 440.2 L167.2 442 L169.9 442.9 L172.7 443.8 L175.4 442 L176.3 439.87 L177.2 437.73 L178.1 435.6 L179 433.8 L179.9 432 L180.8 430.2 L182.2 428.12 L183.6 427.5 L184.5 425.2 L185.4 422.9 L188.1 421.1 L190.8 419.3 L192.15 420.14 L193.5 422 L194.85 423.77 L196.2 424.7 L197.4 423.01 L198.6 421.1 L199.63 422.64 L200.67 424.05 L201.7 425.7 L202.06 423.34 L202.42 420.98 L202.78 418.62 L203.14 416.26 L203.5 413.9 L203.84 411.85 L204.18 409.8 L204.51 407.75 L204.85 405.7 L205.19 403.65 L205.52 401.6 L205.86 399.55 L206.2 397.5 L206.65 395.38 L207.1 393.27 L207.55 391.15 L208 389.03 L208.45 386.92 L208.9 384.8 L210.3 382.65 L211.7 381.2 L213.05 378.95 L214.4 376.7 L217.1 377.6 L217.55 379.88 L218 382.15 L218.45 384.43 L218.9 386.7 L219.24 388.74 L219.57 390.77 L219.91 392.81 L220.25 394.85 L220.59 396.89 L220.93 398.93 L221.26 400.96 L221.6 403 L222 405.07 L222.4 407.14 L222.8 409.21 L223.2 411.29 L223.6 413.36 L224 415.43 L224.4 417.5 L225.3 419.3 L226.2 421.1 L227.1 422.9 L229.8 421.1 L230.7 419.3 L231.6 417.5 L232.5 415.7 L233.4 413.87 L234.3 412.03 L235.2 410.2 L235.42 408.18 L235.65 406.15 L235.88 404.12 L236.1 402.1 L237.5 401.96 L238.9 400.3 L239.8 398.47 L240.7 396.63 L241.6 394.8 L242.5 393 L243.4 391.2 L244.3 389.4 L247 389.4 L247.68 387.57 L248.35 385.75 L249.02 383.93 L249.7 382.1 L251.1 380.58 L252.5 378.5 L255.2 379.4 L257.9 381.2 L258.5 378.8 L259.1 376.4 L259.7 374 L259.9 371.78 L260.1 369.56 L260.3 367.33 L260.5 365.11 L260.7 362.89 L260.9 360.67 L261.1 358.44 L261.3 356.22 L261.5 354 L261.76 351.67 L262.01 349.34 L262.27 347.01 L262.53 344.69 L262.79 342.36 L263.04 340.03 L263.3 337.7 L263.95 335.9 L264.6 334.1 L265.1 335.9 L265.6 337.7 L266.1 339.5 L266.36 341.83 L266.61 344.16 L266.87 346.49 L267.13 348.81 L267.39 351.14 L267.64 353.47 L267.9 355.8 L268.12 358.07 L268.35 360.35 L268.57 362.62 L268.8 364.9 L269.02 367.18 L269.25 369.45 L269.47 371.73 L269.7 374 L269.9 376.21 L270.1 378.42 L270.3 380.63 L270.5 382.84 L270.7 385.06 L270.9 387.27 L271.1 389.48 L271.3 391.69 L271.5 393.9 L271.76 396.23 L272.01 398.56 L272.27 400.89 L272.53 403.21 L272.79 405.54 L273.04 407.87 L273.3 410.2 L273.75 412.48 L274.2 414.75 L274.65 417.02 L275.1 419.3 L275.48 421.48 L275.86 423.66 L276.24 425.84 L276.62 428.02 L277 430.2 L277.3 432.32 L277.6 434.43 L277.9 436.55 L278.2 438.67 L278.5 440.78 L278.8 442.9 L279.7 444.7 L280.6 446.5 L281.5 448.3 L282.85 450.15 L284.2 452 L286 453.43 L287.8 454.7 L289.6 456.81 L291.4 456.28 L293.2 459.41 L295 460 L297.2 460.65 L299.4 461.7 L301.6 462.77 L303.8 464.07 L306 463.75 L308 464.41 L310 465.53 L312 468.02 L314 466.58 L316 468.75 L318 469.92 L320 470.67 L322 469.56 L324 472.09 L326 472.5 L328 472.62 L330 472.96 L332 470.43 L334 472.13 L336 470 L338 470.29 L340 470.44 L342 472.22 L344 469.28 L346 471.25 L348 471.8 L350 471.21 L352 469.9 L354 471.58 L356 470 L358 469.46 L360 469.9 L362 470.1 L364 471.08 L366 470 L368 468.68 L370 469.26 L372 468.96 L374 469.2 L376 468.75 L378 470.06 L380 467.92 L382 470.06 L384 468.36 L386 468.75 L388 469.01 L390 468.41 L392 469.52 L394 471.5 L396 470 L398 470.02 L400 469.99 L402 467.93 L404 467.38 L406 467.5 L408 466.51 L410 467.32 L412 467.25 L414 467.55 L416 466.25 L418 464.3 L420 466.57 L422 466.92 L424 465.42 L426 465 L428.25 463.27 L430.5 464.31 L432.75 463.2 L435 465.2 L437.7 463.64 L440.4 464.3 L442.23 465.04 L444.07 463.45 L445.9 462.5 L447.7 462.4 L449.5 462.22 L451.3 460.7 L452.7 458.4 L454.1 456.1 L455 453.7 L455.9 451.3 L456.8 448.9 L457.19 446.83 L457.57 444.76 L457.96 442.69 L458.34 440.61 L458.73 438.54 L459.11 436.47 L459.5 434.4 L459.84 432.12 L460.18 429.85 L460.51 427.57 L460.85 425.3 L461.19 423.02 L461.52 420.75 L461.86 418.47 L462.2 416.2 L462.43 413.94 L462.65 411.68 L462.88 409.41 L463.1 407.15 L463.32 404.89 L463.55 402.62 L463.77 400.36 L464 398.1 L464.26 395.76 L464.51 393.41 L464.77 391.07 L465.03 388.73 L465.29 386.39 L465.54 384.04 L465.8 381.7 L466.27 379.58 L466.73 377.47 L467.2 375.35 L467.67 373.23 L468.13 371.12 L468.6 369 L468.78 366.82 L468.96 364.64 L469.14 362.46 L469.32 360.28 L469.5 358.1 L470.4 356.3 L471.3 354.5 L474 353 L474.9 355.55 L475.8 358.1 L476.16 360.28 L476.52 362.46 L476.88 364.64 L477.24 366.82 L477.6 369 L477.84 371.05 L478.08 373.1 L478.31 375.15 L478.55 377.2 L478.79 379.25 L479.02 381.3 L479.26 383.35 L479.5 385.4 L479.76 387.73 L480.01 390.06 L480.27 392.39 L480.53 394.71 L480.79 397.04 L481.04 399.37 L481.3 401.7 L481.56 404.03 L481.81 406.36 L482.07 408.69 L482.33 411.01 L482.59 413.34 L482.84 415.67 L483.1 418 L483.78 420.27 L484.45 422.55 L485.12 424.83 L485.8 427.1 L486.25 429.22 L486.7 431.33 L487.15 433.45 L487.6 435.57 L488.05 437.68 L488.5 439.8 L488.95 442.07 L489.4 444.35 L489.85 446.62 L490.3 448.9 L491.7 450.32 L493.1 452.5 L493.78 454.55 L494.45 456.6 L495.12 458.65 L495.8 460.7 L497.15 462.95 L498.5 465.2 L500.3 464.34 L502.1 462.5 L503.95 463.12 L505.8 465.2 L506.7 467.45 L507.6 469.7 L509.4 467.88 L511.2 466.1 L513.03 464.82 L514.87 466.22 L516.7 467 L519.1 467.85 L521.5 467.99 L523.9 468.8 L526 468.75 L528 469.46 L530 467.33 L532 469.94 L534 468.2 L536 468.75 L538 469.33 L540 469.27 L542 468.42 L544 468.29 L546 468.75 L548 470.22 L550 471.25 L552 471.21 L554 470.98 L556 471.25 L558 470.73 L560 470.13 L562 473.75 L564 473 L566 472.5 L568 474.11 L570 472.93 L572 474.36 L574 476.11 L576 475 L578 476.47 L580 475.87 L582 475.04 L584 475.74 L586 476.25 L588 477.93 L590 476.3 L592 477.68 L594 477.63 L596 477.5 L598 479.21 L600 479.13 L602 477.45 L604 476.66 L606 478.75 L608 477.45 L610 477.49 L612 477.54 L614 477.82 L616 476.25 L618.5 478.05 L621 475.44 L623.5 477.5" fill="none" stroke="#231f20" stroke-width="3.4" stroke-linejoin="round" stroke-linecap="round"/>
<path d="M77 29.5 L77.04 31.71 L77.08 33.91 L77.12 36.12 L77.16 38.33 L77.2 40.54 L77.23 42.74 L77.27 44.95 L77.31 47.16 L77.35 49.37 L77.39 51.57 L77.43 53.78 L77.47 55.99 L77.51 58.2 L77.55 60.4 L77.59 62.61 L77.62 64.82 L77.66 67.02 L77.7 69.23 L77.74 71.44 L77.78 73.65 L77.82 75.85 L77.86 78.06 L77.9 80.27 L77.94 82.48 L77.98 84.68 L78.01 86.89 L78.05 89.1 L78.09 91.3 L78.13 93.51 L78.17 95.72 L78.21 97.93 L78.25 100.13 L78.29 102.34 L78.33 104.55 L78.37 106.76 L78.4 108.96 L78.44 111.17 L78.48 113.38 L78.52 115.59 L78.56 117.79 L78.6 120 L78.65 122.22 L78.7 124.44 L78.76 126.67 L78.81 128.89 L78.86 131.11 L78.91 133.33 L78.96 135.56 L79.01 137.78 L79.07 140 L79.12 142.22 L79.17 144.44 L79.22 146.67 L79.27 148.89 L79.33 151.11 L79.38 153.33 L79.43 155.56 L79.48 157.78 L79.53 160 L79.59 162.22 L79.64 164.44 L79.69 166.67 L79.74 168.89 L79.79 171.11 L79.84 173.33 L79.9 175.56 L79.95 177.78 L80 180 L80.14 182 L80.28 184 L80.42 186 L80.56 188 L80.7 190 L80.81 192.26 L80.92 194.53 L81.04 196.79 L81.15 199.05 L81.26 201.31 L81.38 203.57 L81.49 205.84 L81.6 208.1 L81.75 210.37 L81.9 212.63 L82.05 214.9 L82.2 217.17 L82.35 219.43 L82.5 221.7 L82.65 223.97 L82.8 226.23 L82.95 228.5 L83.1 230.77 L83.25 233.03 L83.4 235.3 L83.64 237.58 L83.88 239.85 L84.11 242.12 L84.35 244.4 L84.59 246.68 L84.83 248.95 L85.06 251.22 L85.3 253.5 L85.75 255.62 L86.2 257.73 L86.65 259.85 L87.1 261.97 L87.55 264.08 L88 266.2 L88.9 268 L89.8 269.8 L90.7 271.6 L92.05 273.85 L93.4 276.1 L93.94 278.1 L94.48 280.1 L95.02 282.1 L95.56 284.1 L96.1 286.1 L96.73 287.93 L97.37 289.77 L98 291.6 L98.36 293.76 L98.72 295.92 L99.08 298.08 L99.44 300.24 L99.8 302.4 L101.15 304.02 L102.5 306.1 L103.17 308.35 L103.85 310.6 L104.53 312.85 L105.2 315.1 L106.4 316.93 L107.6 318.71 L108.8 320.6 L110.03 322.31 L111.27 324.07 L112.5 326 L113.85 328.3 L115.2 330.6 L116.4 331.67 L117.6 333.79 L118.8 335.1 L120 333.33 L121.2 331.69 L122.4 330.6 L124.25 332.5 L126.1 331.5 L127.9 332.88 L129.7 335.1 L130.9 333.35 L132.1 331.5 L133.3 329.6 L135.1 331.38 L136.9 330.6 L138.75 328.9 L140.6 329.6 L142.4 328.55 L144.2 327.8 L145.55 325.85 L146.9 325.1 L148.45 323.01 L150 320.6 L151.35 322.63 L152.7 324.2 L155.4 322.4 L156.33 320.6 L157.27 318.8 L158.2 317 L159.55 315.37 L160.9 314.2 L162.7 316.51 L164.5 317.9 L165.7 319.38 L166.9 321.01 L168.1 322.4 L169.5 323.18 L170.9 325.1 L172.25 323.33 L173.6 322.4 L175.4 319.94 L177.2 318.8 L179.9 318.8 L181.25 317.07 L182.6 315.1 L183.53 313.3 L184.47 311.5 L185.4 309.7 L187.2 309.82 L189 307.9 L191.25 308.1 L193.5 309.7 L195.35 311.36 L197.2 313.3 L199.9 313.3 L200.62 311.12 L201.34 308.94 L202.06 306.76 L202.78 304.58 L203.5 302.4 L203.95 300.14 L204.4 297.88 L204.85 295.61 L205.3 293.35 L205.75 291.09 L206.2 288.82 L206.65 286.56 L207.1 284.3 L207.64 282.3 L208.18 280.3 L208.72 278.3 L209.26 276.3 L209.8 274.3 L211.7 273.4 L213.05 271.46 L214.4 269.8 L216.2 271.6 L216.88 273.88 L217.55 276.15 L218.22 278.43 L218.9 280.7 L219.24 282.96 L219.57 285.23 L219.91 287.49 L220.25 289.75 L220.59 292.01 L220.93 294.27 L221.26 296.54 L221.6 298.8 L222.05 301.07 L222.5 303.35 L222.95 305.62 L223.4 307.9 L224.33 306.07 L225.27 304.23 L226.2 302.4 L226.8 300.6 L227.4 298.8 L228 297 L230.7 298.8 L231.6 297 L232.5 295.2 L233.4 293.4 L234.3 291.55 L235.2 289.7 L236.12 287.9 L237.05 286.1 L237.97 284.3 L238.9 282.5 L239.35 280.23 L239.8 277.95 L240.25 275.67 L240.7 273.4 L242.5 272.12 L244.3 273.4 L246.1 271.6 L247.45 269.98 L248.8 268 L249.12 265.88 L249.43 263.77 L249.75 261.65 L250.07 259.53 L250.38 257.42 L250.7 255.3 L252.05 253.5 L253.4 251.7 L254.3 254.1 L255.2 256.5 L256.1 258.9 L257 257.1 L257.9 255.3 L258.8 253.5 L259.03 251.22 L259.25 248.95 L259.48 246.68 L259.7 244.4 L259.93 242.12 L260.15 239.85 L260.38 237.58 L260.6 235.3 L260.71 233.04 L260.83 230.78 L260.94 228.51 L261.05 226.25 L261.16 223.99 L261.27 221.72 L261.39 219.46 L261.5 217.2 L261.72 215.08 L261.93 212.97 L262.15 210.85 L262.37 208.73 L262.58 206.62 L262.8 204.5 L264 202 L265.2 203 L265.65 205.5 L266.1 208 L266.33 210.25 L266.55 212.5 L266.77 214.75 L267 217 L267.23 219.25 L267.45 221.5 L267.67 223.75 L267.9 226 L268.06 228.18 L268.23 230.36 L268.39 232.55 L268.55 234.73 L268.72 236.91 L268.88 239.09 L269.05 241.27 L269.21 243.45 L269.37 245.64 L269.54 247.82 L269.7 250 L269.88 252.16 L270.06 254.32 L270.24 256.48 L270.42 258.64 L270.6 260.8 L270.78 262.96 L270.96 265.12 L271.14 267.28 L271.32 269.44 L271.5 271.6 L271.7 273.82 L271.9 276.04 L272.1 278.27 L272.3 280.49 L272.5 282.71 L272.7 284.93 L272.9 287.16 L273.1 289.38 L273.3 291.6 L273.6 293.72 L273.9 295.83 L274.2 297.95 L274.5 300.07 L274.8 302.18 L275.1 304.3 L275.8 306.1 L276.5 307.9 L277.2 309.7 L277.9 311.5 L278.5 313.33 L279.1 315.17 L279.7 317 L280.3 319.4 L280.9 321.8 L281.5 324.2 L282.18 326.48 L282.85 328.75 L283.52 331.02 L284.2 333.3 L286 333.2 L287.8 335.1 L289.6 336.54 L291.4 338.38 L293.2 337.96 L295 340 L296.79 341.25 L298.57 342.76 L300.36 342.38 L302.14 345.1 L303.93 346.45 L305.71 346.15 L307.5 347.5 L309.58 348.32 L311.67 350.52 L313.75 350.7 L315.83 351.38 L317.92 353.92 L320 353.75 L322.08 355 L324.17 353.56 L326.25 353.4 L328.33 353.96 L330.42 354.55 L332.5 355 L334.58 356.6 L336.67 355.72 L338.75 355.92 L340.83 355.35 L342.92 355.26 L345 353.75 L346.67 351.55 L348.33 351.29 L350 350 L351.67 352.35 L353.33 353.98 L355 355 L357.2 353.82 L359.4 354.21 L361.6 354.74 L363.8 353.5 L366 353.75 L368 354.11 L370 352.66 L372 354.25 L374 354.77 L376 355 L378 353.48 L380 354.17 L382 357.48 L384 357.02 L386 356.25 L388 357.22 L390 355.7 L392 355.79 L394 355.55 L396 353.75 L398 354.92 L400 351.53 L402 353.52 L404 351.89 L406 352.5 L407.67 352.16 L409.33 350.21 L411 350 L413 350.55 L415 352.29 L417 351.62 L419 350.73 L421 352 L423 351.67 L425 350.97 L427 352.38 L429 349.66 L431 350 L433 348.96 L435 349.3 L436.8 349.35 L438.6 348.4 L440.45 346.2 L442.3 345.6 L444.1 346.41 L445.9 346.6 L447.7 346.87 L449.5 344.7 L450.85 343.37 L452.2 342 L452.9 340.2 L453.6 338.4 L454.3 336.6 L455 334.8 L455.54 332.62 L456.08 330.44 L456.62 328.26 L457.16 326.08 L457.7 323.9 L458.15 321.62 L458.6 319.35 L459.05 317.07 L459.5 314.8 L459.76 312.73 L460.01 310.66 L460.27 308.59 L460.53 306.51 L460.79 304.44 L461.04 302.37 L461.3 300.3 L461.56 297.97 L461.81 295.64 L462.07 293.31 L462.33 290.99 L462.59 288.66 L462.84 286.33 L463.1 284 L463.4 281.88 L463.7 279.77 L464 277.65 L464.3 275.53 L464.6 273.42 L464.9 271.3 L465.28 269.12 L465.66 266.94 L466.04 264.76 L466.42 262.58 L466.8 260.4 L467.1 258.28 L467.4 256.17 L467.7 254.05 L468 251.93 L468.3 249.82 L468.6 247.7 L468.77 245.61 L468.94 243.53 L469.11 241.44 L469.29 239.36 L469.46 237.27 L469.63 235.19 L469.8 233.1 L470.55 231.3 L471.3 229.5 L472.2 228 L473.1 226.5 L474.6 228 L474.9 230.2 L475.2 232.4 L475.5 234.6 L475.8 236.8 L476.16 238.98 L476.52 241.16 L476.88 243.34 L477.24 245.52 L477.6 247.7 L477.92 249.82 L478.23 251.93 L478.55 254.05 L478.87 256.17 L479.18 258.28 L479.5 260.4 L479.76 262.47 L480.01 264.54 L480.27 266.61 L480.53 268.69 L480.79 270.76 L481.04 272.83 L481.3 274.9 L481.6 277.02 L481.9 279.13 L482.2 281.25 L482.5 283.37 L482.8 285.48 L483.1 287.6 L483.36 289.67 L483.61 291.74 L483.87 293.81 L484.13 295.89 L484.39 297.96 L484.64 300.03 L484.9 302.1 L485.16 304.17 L485.41 306.24 L485.67 308.31 L485.93 310.39 L486.19 312.46 L486.44 314.53 L486.7 316.6 L487.13 319.03 L487.57 321.47 L488 323.9 L489.15 325.03 L490.3 326.6 L491.23 328.73 L492.17 330.87 L493.1 333 L494 335.25 L494.9 337.5 L496.7 335.7 L498.5 334.8 L498.95 337.05 L499.4 339.3 L499.85 341.55 L500.3 343.8 L503 345.6 L505.3 346.55 L507.6 347.5 L510.3 347.75 L513 348.4 L514.83 348 L516.67 348.98 L518.5 350.2 L520.3 349.68 L522.1 351.64 L523.9 352 L526.27 352.05 L528.63 349.96 L531 351.25 L533 352.55 L535 350.1 L537 351.77 L539 351.5 L541 350 L543.25 352.03 L545.5 349.75 L547.75 350.94 L550 353.06 L552.25 352 L553.81 352.49 L555.38 353.94 L556.94 356.24 L558.5 357.5 L560.5 357.24 L562.5 358.55 L564.5 357.76 L566.5 356.64 L568.5 356.25 L570.38 358.56 L572.25 358.17 L574.12 359.11 L576 360 L578 360.93 L580 360.09 L582 360.23 L584 361.35 L586 361.25 L588 360.65 L590 363.04 L592 361.96 L594 361.35 L596 361.25 L598 360.02 L600 361.29 L602 361.63 L604 362.48 L606 362.5 L608 362.52 L610 363.4 L612 363.46 L614 361.45 L616 361.25 L617.88 360.61 L619.75 360.8 L621.62 361.63 L623.5 359.5" fill="none" stroke="#231f20" stroke-width="3.4" stroke-linejoin="round" stroke-linecap="round"/>
<path d="M755.5 29.5 L755.52 31.71 L755.55 33.91 L755.57 36.12 L755.6 38.33 L755.62 40.54 L755.65 42.74 L755.67 44.95 L755.7 47.16 L755.72 49.37 L755.74 51.57 L755.77 53.78 L755.79 55.99 L755.82 58.2 L755.84 60.4 L755.87 62.61 L755.89 64.82 L755.91 67.02 L755.94 69.23 L755.96 71.44 L755.99 73.65 L756.01 75.85 L756.04 78.06 L756.06 80.27 L756.09 82.48 L756.11 84.68 L756.13 86.89 L756.16 89.1 L756.18 91.3 L756.21 93.51 L756.23 95.72 L756.26 97.93 L756.28 100.13 L756.3 102.34 L756.33 104.55 L756.35 106.76 L756.38 108.96 L756.4 111.17 L756.43 113.38 L756.45 115.59 L756.48 117.79 L756.5 120 L756.53 122.2 L756.55 124.41 L756.58 126.61 L756.6 128.81 L756.63 131.02 L756.65 133.22 L756.68 135.42 L756.7 137.63 L756.73 139.83 L756.75 142.03 L756.78 144.24 L756.81 146.44 L756.83 148.64 L756.86 150.85 L756.88 153.05 L756.91 155.25 L756.93 157.46 L756.96 159.66 L756.98 161.86 L757.01 164.07 L757.03 166.27 L757.06 168.47 L757.08 170.68 L757.11 172.88 L757.14 175.08 L757.16 177.29 L757.19 179.49 L757.21 181.69 L757.24 183.9 L757.26 186.1 L757.29 188.31 L757.31 190.51 L757.34 192.71 L757.36 194.92 L757.39 197.12 L757.42 199.32 L757.44 201.53 L757.47 203.73 L757.49 205.93 L757.52 208.14 L757.54 210.34 L757.57 212.54 L757.59 214.75 L757.62 216.95 L757.64 219.15 L757.67 221.36 L757.69 223.56 L757.72 225.76 L757.75 227.97 L757.77 230.17 L757.8 232.37 L757.82 234.58 L757.85 236.78 L757.87 238.98 L757.9 241.19 L757.92 243.39 L757.95 245.59 L757.97 247.8 L758 250 L758.03 252.2 L758.06 254.4 L758.09 256.6 L758.12 258.8 L758.15 261 L758.18 263.2 L758.21 265.4 L758.24 267.6 L758.27 269.8 L758.3 272 L758.33 274.2 L758.36 276.4 L758.39 278.6 L758.42 280.8 L758.45 283 L758.48 285.2 L758.51 287.4 L758.54 289.6 L758.57 291.8 L758.6 294 L758.63 296.2 L758.66 298.4 L758.69 300.6 L758.72 302.8 L758.75 305 L758.78 307.2 L758.81 309.4 L758.84 311.6 L758.87 313.8 L758.9 316 L758.93 318.2 L758.96 320.4 L758.99 322.6 L759.02 324.8 L759.05 327 L759.08 329.2 L759.11 331.4 L759.14 333.6 L759.17 335.8 L759.2 338 L759.23 340.2 L759.26 342.4 L759.29 344.6 L759.32 346.8 L759.35 349 L759.38 351.2 L759.41 353.4 L759.44 355.6 L759.47 357.8 L759.5 360 L759.53 362.22 L759.56 364.44 L759.58 366.67 L759.61 368.89 L759.64 371.11 L759.67 373.33 L759.69 375.56 L759.72 377.78 L759.75 380 L759.78 382.22 L759.81 384.44 L759.83 386.67 L759.86 388.89 L759.89 391.11 L759.92 393.33 L759.94 395.56 L759.97 397.78 L760 400 L760.03 402.22 L760.06 404.44 L760.08 406.67 L760.11 408.89 L760.14 411.11 L760.17 413.33 L760.19 415.56 L760.22 417.78 L760.25 420 L760.28 422.22 L760.31 424.44 L760.33 426.67 L760.36 428.89 L760.39 431.11 L760.42 433.33 L760.44 435.56 L760.47 437.78 L760.5 440 L760.56 442.22 L760.61 444.44 L760.67 446.67 L760.72 448.89 L760.78 451.11 L760.83 453.33 L760.89 455.56 L760.94 457.78 L761 460 L761.06 462.22 L761.11 464.44 L761.17 466.67 L761.22 468.89 L761.28 471.11 L761.33 473.33 L761.39 475.56 L761.44 477.78 L761.5 480 L761.56 482.22 L761.61 484.44 L761.67 486.67 L761.72 488.89 L761.78 491.11 L761.83 493.33 L761.89 495.56 L761.94 497.78 L762 500 L762.02 502.22 L762.04 504.44 L762.06 506.67 L762.08 508.89 L762.1 511.11 L762.12 513.33 L762.14 515.56 L762.16 517.78 L762.17 520 L762.19 522.22 L762.21 524.44 L762.23 526.67 L762.25 528.89 L762.27 531.11 L762.29 533.33 L762.31 535.56 L762.33 537.78 L762.35 540 L762.37 542.22 L762.39 544.44 L762.41 546.67 L762.43 548.89 L762.45 551.11 L762.47 553.33 L762.49 555.56 L762.51 557.78 L762.53 560 L762.54 562.22 L762.56 564.44 L762.58 566.67 L762.6 568.89 L762.62 571.11 L762.64 573.33 L762.66 575.56 L762.68 577.78 L762.7 580 L762.85 582.27 L763 584.53 L763.15 586.8 L763.3 589.07 L763.45 591.33 L763.6 593.6 L763.75 595.87 L763.9 598.13 L764.05 600.4 L764.2 602.67 L764.35 604.93 L764.5 607.2 L764.66 609.35 L764.83 611.49 L764.99 613.64 L765.15 615.78 L765.32 617.93 L765.48 620.07 L765.65 622.22 L765.81 624.36 L765.97 626.51 L766.14 628.65 L766.3 630.8 L766.52 632.92 L766.73 635.03 L766.95 637.15 L767.17 639.27 L767.38 641.38 L767.6 643.5 L770 644.4 L770.45 646.42 L770.9 648.45 L771.35 650.48 L771.8 652.5 L773.15 654.57 L774.5 656.2 L775.4 658.6 L776.3 661 L777.2 663.4 L777.8 665.23 L778.4 667.07 L779 668.9 L780.4 670.74 L781.8 672.5 L782.4 674.9 L783 677.3 L783.6 679.7 L784.95 681.02 L786.3 681.6 L787.2 683.4 L788.1 685.2 L789 687 L791.7 688.8 L793.1 688.54 L794.5 687 L795.85 686.15 L797.2 684.3 L799 684.83 L800.8 687 L802 685.32 L803.2 683.88 L804.4 682.5 L805.8 684.07 L807.2 686.1 L808.1 688.35 L809 690.6 L810.8 689.72 L812.6 690.6 L813.5 688.8 L814.4 687 L815.3 685.2 L816.5 683.07 L817.7 680.93 L818.9 678.8 L820.75 677.07 L822.6 676.1 L823.95 673.85 L825.3 671.6 L826.65 670.04 L828 668.9 L829.35 670.48 L830.7 672.5 L831.6 674.9 L832.5 677.3 L833.4 679.7 L833.96 681.7 L834.52 683.7 L835.08 685.7 L835.64 687.7 L836.2 689.7 L837.4 691.62 L838.6 693.38 L839.8 695.2 L841.15 693.25 L842.5 692.4 L843.85 690.59 L845.2 688.8 L847.05 690.01 L848.9 691.5 L849.8 689.4 L850.7 687.3 L851.6 685.2 L853.4 683.09 L855.2 684.3 L857 685.27 L858.8 683.4 L861.6 684.3 L864.3 686.1 L864.97 684.27 L865.65 682.45 L866.33 680.62 L867 678.8 L868.35 677.68 L869.7 676.1 L871.05 674.13 L872.4 672.5 L874.25 670.3 L876.1 668.9 L877.3 667 L878.5 665.15 L879.7 663.4 L881.05 662.46 L882.4 660.7 L883.75 662.56 L885.1 663.4 L886.5 662.01 L887.9 661.6 L889.25 659.59 L890.6 658 L891.5 659.8 L892.4 661.6 L893.3 663.4 L896 665.2 L896.67 667.03 L897.35 668.85 L898.03 670.67 L898.7 672.5 L899.55 674.3 L900.4 676.1 L902.25 675.87 L904.1 674.3 L905.3 676.43 L906.5 678.57 L907.7 680.7 L908.9 678.57 L910.1 676.43 L911.3 674.3 L913.15 673.77 L915 674.3 L915.6 672.18 L916.2 670.07 L916.8 667.95 L917.4 665.83 L918 663.72 L918.6 661.6 L919.5 659.8 L920.4 658 L921.3 656.2 L922.2 654.4 L924 656.19 L925.8 657.1 L927.2 654.8 L928.6 652.5 L929.95 651 L931.3 648.9 L932.2 646.8 L933.1 644.7 L934 642.6 L934.67 644.85 L935.35 647.1 L936.03 649.35 L936.7 651.6 L937.6 653.43 L938.5 655.27 L939.4 657.1 L940 655.05 L940.6 653 L941.2 650.95 L941.8 648.9 L942.02 646.73 L942.24 644.56 L942.46 642.39 L942.68 640.22 L942.9 638.05 L943.12 635.88 L943.34 633.71 L943.56 631.54 L943.78 629.37 L944 627.2 L944.2 624.98 L944.4 622.76 L944.6 620.53 L944.8 618.31 L945 616.09 L945.2 613.87 L945.4 611.64 L945.6 609.42 L945.8 607.2 L946.4 604.75 L947 602.3 L947.75 604.75 L948.5 607.2 L948.73 609.46 L948.95 611.73 L949.17 613.99 L949.4 616.25 L949.62 618.51 L949.85 620.77 L950.07 623.04 L950.3 625.3 L950.52 627.57 L950.75 629.85 L950.98 632.12 L951.2 634.4 L951.42 636.67 L951.65 638.95 L951.88 641.23 L952.1 643.5 L952.33 645.76 L952.55 648.02 L952.77 650.29 L953 652.55 L953.23 654.81 L953.45 657.08 L953.67 659.34 L953.9 661.6 L954.17 663.93 L954.44 666.26 L954.71 668.59 L954.99 670.91 L955.26 673.24 L955.53 675.57 L955.8 677.9 L956.47 679.73 L957.15 681.55 L957.83 683.38 L958.5 685.2 L959.1 687.6 L959.7 690 L960.3 692.4 L962.1 694.48 L963.9 696.1 L964.5 697.9 L965.1 699.7 L965.7 701.5 L967.55 701.67 L969.4 702.4 L971.2 702.95 L973 703.3 L974.8 704.11 L976.6 704.17 L978.4 705.1 L980.25 706.37 L982.1 708.8 L983.9 710.12 L985.7 712.4 L987.5 714.17 L989.3 713.3 L991.55 713.92 L993.8 714.2 L996.1 713.93 L998.4 716 L1000.2 716.55 L1002 714.02 L1003.8 714.2 L1005.63 713.51 L1007.47 715.5 L1009.3 716 L1012 715.01 L1014.7 716 L1016.5 716.57 L1018.3 717.37 L1020.1 717.8 L1021.93 716.14 L1023.77 716.2 L1025.6 715.1 L1027.4 714.94 L1029.2 716.94 L1031 717.8 L1033 718.04 L1035 715.97 L1037 717.5 L1039 717.41 L1041 716.43 L1043 718.03 L1045 719.84 L1047 718.75 L1049 718.95 L1051 719.61 L1053 719.78 L1055 717.21 L1057 718.75 L1059 720.71 L1061 719.64 L1063 717.16 L1065 720.07 L1067 718.75 L1069 718.19 L1071 717.2 L1073 720.05 L1075 718.39 L1077 718 L1079 719.2 L1081 716.92 L1083 719.5 L1085 716.91 L1087 718.75 L1089 717.6 L1091 717.96 L1093 716.45 L1095 718.51 L1097 718 L1099 716.79 L1101 717.02 L1103 718.5 L1105 717.31 L1107 717.5 L1109 718.72 L1111 717.5 L1113 718.21 L1115 716.6 L1117.7 716.85 L1120.4 716.6 L1122.23 716.81 L1124.07 715.74 L1125.9 713.8 L1128.6 713.06 L1131.3 714.7 L1133.6 715.11 L1135.9 713.8 L1136.5 712 L1137.1 710.2 L1137.7 708.4 L1138.06 706.22 L1138.42 704.04 L1138.78 701.86 L1139.14 699.68 L1139.5 697.5 L1139.76 695.17 L1140.01 692.84 L1140.27 690.51 L1140.53 688.19 L1140.79 685.86 L1141.04 683.53 L1141.3 681.2 L1141.56 678.86 L1141.81 676.51 L1142.07 674.17 L1142.33 671.83 L1142.59 669.49 L1142.84 667.14 L1143.1 664.8 L1143.46 662.64 L1143.82 660.48 L1144.18 658.32 L1144.54 656.16 L1144.9 654 L1145.38 651.73 L1145.85 649.45 L1146.33 647.17 L1146.8 644.9 L1146.98 642.72 L1147.16 640.54 L1147.34 638.36 L1147.52 636.18 L1147.7 634 L1148.6 632.17 L1149.5 630.33 L1150.4 628.5 L1150.79 626.43 L1151.17 624.36 L1151.56 622.29 L1151.94 620.21 L1152.33 618.14 L1152.71 616.07 L1153.1 614 L1153.65 611.88 L1154.2 609.75 L1154.75 607.62 L1155.3 605.5 L1157.6 606.8 L1157.98 608.98 L1158.36 611.16 L1158.74 613.34 L1159.12 615.52 L1159.5 617.7 L1159.8 619.82 L1160.1 621.93 L1160.4 624.05 L1160.7 626.17 L1161 628.28 L1161.3 630.4 L1161.6 632.52 L1161.9 634.63 L1162.2 636.75 L1162.5 638.87 L1162.8 640.98 L1163.1 643.1 L1163.36 645.17 L1163.61 647.24 L1163.87 649.31 L1164.13 651.39 L1164.39 653.46 L1164.64 655.53 L1164.9 657.6 L1165.16 659.67 L1165.41 661.74 L1165.67 663.81 L1165.93 665.89 L1166.19 667.96 L1166.44 670.03 L1166.7 672.1 L1167.15 674.22 L1167.6 676.33 L1168.05 678.45 L1168.5 680.57 L1168.95 682.68 L1169.4 684.8 L1170.14 686.98 L1170.88 689.16 L1171.62 691.34 L1172.36 693.52 L1173.1 695.7 L1174.9 697.16 L1176.7 699.3 L1177.6 701.13 L1178.5 702.97 L1179.4 704.8 L1180.3 706.6 L1181.2 708.4 L1182.1 710.2 L1183 712 L1185.3 714.28 L1187.6 713.8 L1189.85 716.18 L1192.1 715.6 L1194.4 715.17 L1196.7 717.5 L1198.5 718.29 L1200.3 719.56 L1202.1 719.3 L1204.55 720.41 L1207 718.75 L1209 719.85 L1211 719.28 L1213 719.29 L1215 718.2 L1217 718.75 L1219 717.88 L1221 719.93 L1223 720.24 L1225 720.5 L1227 718.75 L1229 719.48 L1231 717.97 L1233 719.8 L1235 719.71 L1237 718.75 L1239 719.03 L1241 719.75 L1243 718.95 L1245 719.94 L1247 720 L1249 719.9 L1251 718.88 L1253 720.15 L1255 720.35 L1257 721.25 L1259 723.2 L1261 721.18 L1263 720.72 L1265 720.22 L1267 721.25 L1269 720.52 L1271 721.19 L1273 720.66 L1275 720.43 L1277 722.5 L1279 723.62 L1281 721.83 L1283 721.55 L1285 721.75 L1287 721.25 L1289 720.46 L1291 719.93 L1293 719.52 L1295 720.46 L1297 721.25 L1299.08 719.84 L1301.17 720.26 L1303.25 718.75 L1304.08 716.67 L1304.92 714.58 L1305.75 712.5" fill="none" stroke="#231f20" stroke-width="3.4" stroke-linejoin="round" stroke-linecap="round"/>
<path d="M754 29.5 L754.02 31.71 L754.05 33.91 L754.07 36.12 L754.1 38.33 L754.12 40.54 L754.15 42.74 L754.17 44.95 L754.2 47.16 L754.22 49.37 L754.24 51.57 L754.27 53.78 L754.29 55.99 L754.32 58.2 L754.34 60.4 L754.37 62.61 L754.39 64.82 L754.41 67.02 L754.44 69.23 L754.46 71.44 L754.49 73.65 L754.51 75.85 L754.54 78.06 L754.56 80.27 L754.59 82.48 L754.61 84.68 L754.63 86.89 L754.66 89.1 L754.68 91.3 L754.71 93.51 L754.73 95.72 L754.76 97.93 L754.78 100.13 L754.8 102.34 L754.83 104.55 L754.85 106.76 L754.88 108.96 L754.9 111.17 L754.93 113.38 L754.95 115.59 L754.98 117.79 L755 120 L755.03 122.2 L755.05 124.41 L755.08 126.61 L755.1 128.81 L755.13 131.02 L755.15 133.22 L755.18 135.42 L755.2 137.63 L755.23 139.83 L755.25 142.03 L755.28 144.24 L755.31 146.44 L755.33 148.64 L755.36 150.85 L755.38 153.05 L755.41 155.25 L755.43 157.46 L755.46 159.66 L755.48 161.86 L755.51 164.07 L755.53 166.27 L755.56 168.47 L755.58 170.68 L755.61 172.88 L755.64 175.08 L755.66 177.29 L755.69 179.49 L755.71 181.69 L755.74 183.9 L755.76 186.1 L755.79 188.31 L755.81 190.51 L755.84 192.71 L755.86 194.92 L755.89 197.12 L755.92 199.32 L755.94 201.53 L755.97 203.73 L755.99 205.93 L756.02 208.14 L756.04 210.34 L756.07 212.54 L756.09 214.75 L756.12 216.95 L756.14 219.15 L756.17 221.36 L756.19 223.56 L756.22 225.76 L756.25 227.97 L756.27 230.17 L756.3 232.37 L756.32 234.58 L756.35 236.78 L756.37 238.98 L756.4 241.19 L756.42 243.39 L756.45 245.59 L756.47 247.8 L756.5 250 L756.53 252.2 L756.56 254.4 L756.59 256.6 L756.62 258.8 L756.65 261 L756.68 263.2 L756.71 265.4 L756.74 267.6 L756.77 269.8 L756.8 272 L756.83 274.2 L756.86 276.4 L756.89 278.6 L756.92 280.8 L756.95 283 L756.98 285.2 L757.01 287.4 L757.04 289.6 L757.07 291.8 L757.1 294 L757.13 296.2 L757.16 298.4 L757.19 300.6 L757.22 302.8 L757.25 305 L757.28 307.2 L757.31 309.4 L757.34 311.6 L757.37 313.8 L757.4 316 L757.43 318.2 L757.46 320.4 L757.49 322.6 L757.52 324.8 L757.55 327 L757.58 329.2 L757.61 331.4 L757.64 333.6 L757.67 335.8 L757.7 338 L757.73 340.2 L757.76 342.4 L757.79 344.6 L757.82 346.8 L757.85 349 L757.88 351.2 L757.91 353.4 L757.94 355.6 L757.97 357.8 L758 360 L758.04 362.22 L758.08 364.44 L758.12 366.67 L758.17 368.89 L758.21 371.11 L758.25 373.33 L758.29 375.56 L758.33 377.78 L758.38 380 L758.42 382.22 L758.46 384.44 L758.5 386.67 L758.54 388.89 L758.58 391.11 L758.62 393.33 L758.67 395.56 L758.71 397.78 L758.75 400 L758.79 402.22 L758.83 404.44 L758.88 406.67 L758.92 408.89 L758.96 411.11 L759 413.33 L759.04 415.56 L759.08 417.78 L759.12 420 L759.17 422.22 L759.21 424.44 L759.25 426.67 L759.29 428.89 L759.33 431.11 L759.38 433.33 L759.42 435.56 L759.46 437.78 L759.5 440 L759.57 442.17 L759.63 444.35 L759.7 446.52 L759.76 448.7 L759.83 450.87 L759.89 453.04 L759.96 455.22 L760.02 457.39 L760.09 459.57 L760.15 461.74 L760.22 463.91 L760.28 466.09 L760.35 468.26 L760.41 470.43 L760.48 472.61 L760.54 474.78 L760.61 476.96 L760.67 479.13 L760.74 481.3 L760.8 483.48 L760.87 485.65 L760.93 487.83 L761 490 L761.22 492.17 L761.43 494.33 L761.65 496.5 L761.87 498.67 L762.08 500.83 L762.3 503 L762.7 505.3 L763.1 507.6 L763.5 509.9 L763.9 512.2 L764.3 514.5 L764.92 516.62 L765.53 518.73 L766.15 520.85 L766.77 522.97 L767.38 525.08 L768 527.2 L768.9 529.48 L769.8 531.75 L770.7 534.02 L771.6 536.3 L773.4 535.96 L775.2 537.2 L775.76 539.2 L776.32 541.2 L776.88 543.2 L777.44 545.2 L778 547.2 L778.9 549.3 L779.8 551.4 L780.7 553.5 L781.9 554.57 L783.1 556.66 L784.3 558 L785.65 560.3 L787 562.6 L789.7 563.5 L791.1 565.33 L792.5 567.1 L794.3 567.71 L796.1 568 L798.35 568.22 L800.6 567.1 L801.8 569.02 L803 570.43 L804.2 571.6 L806.05 573.11 L807.9 573.4 L810.15 573.55 L812.4 574.4 L814.2 574.24 L816 575.3 L817.85 573.73 L819.7 572.5 L821.5 573.65 L823.3 571.6 L825.1 571.67 L826.9 572.5 L828.45 573.58 L830 575.1 L831.8 576.82 L833.6 578.8 L834.83 580.47 L836.07 582.58 L837.3 584.2 L838.65 581.95 L840 579.7 L841.8 578.58 L843.6 577 L845.4 575.76 L847.2 573.3 L849.9 574.2 L851.75 572.02 L853.6 570.6 L855.4 570 L857.2 568.8 L859 568.83 L860.8 569.7 L862.65 568.66 L864.5 569.7 L865.85 567.7 L867.2 566.1 L867.88 564.27 L868.55 562.45 L869.23 560.62 L869.9 558.8 L870.8 557 L871.7 555.2 L872.6 553.4 L875.3 555.2 L876.7 552.95 L878.1 550.7 L878.77 548.65 L879.45 546.6 L880.12 544.55 L880.8 542.5 L881.7 540.7 L882.6 538.9 L883.5 537.1 L885.3 534.95 L887.1 536.1 L888.95 537.42 L890.8 537.1 L892.6 538.97 L894.4 538.9 L895.75 541.15 L897.1 543.4 L898.45 544.89 L899.8 546.1 L901.15 548.4 L902.5 550.7 L903.13 552.8 L903.77 554.9 L904.4 557 L906.2 559.7 L908.9 557.9 L910.25 556.91 L911.6 555.2 L912.27 552.93 L912.95 550.65 L913.62 548.38 L914.3 546.1 L917 545.2 L918.4 542.95 L919.8 540.7 L920.7 538.87 L921.6 537.03 L922.5 535.2 L923.4 533.4 L924.3 531.6 L925.2 529.8 L926.55 528.51 L927.9 527.1 L929.75 525.43 L931.6 525.3 L932.2 523.17 L932.8 521.03 L933.4 518.9 L935.2 521.6 L936 523.65 L936.8 525.7 L937.6 527.75 L938.4 529.8 L939.13 528 L939.87 526.2 L940.6 524.4 L940.96 522.22 L941.32 520.04 L941.68 517.86 L942.04 515.68 L942.4 513.5 L942.64 511.23 L942.88 508.95 L943.11 506.68 L943.35 504.4 L943.59 502.12 L943.82 499.85 L944.06 497.57 L944.3 495.3 L944.62 492.98 L944.95 490.65 L945.27 488.32 L945.6 486 L946.8 485 L947.9 488.1 L948.1 490.31 L948.3 492.52 L948.5 494.73 L948.7 496.94 L948.9 499.16 L949.1 501.37 L949.3 503.58 L949.5 505.79 L949.7 508 L949.93 510.27 L950.15 512.55 L950.38 514.83 L950.6 517.1 L950.83 519.38 L951.05 521.65 L951.27 523.93 L951.5 526.2 L951.76 528.27 L952.01 530.34 L952.27 532.41 L952.53 534.49 L952.79 536.56 L953.04 538.63 L953.3 540.7 L953.66 542.88 L954.02 545.06 L954.38 547.24 L954.74 549.42 L955.1 551.6 L955.8 553.85 L956.5 556.1 L957.2 558.35 L957.9 560.6 L958.58 562.88 L959.25 565.15 L959.92 567.43 L960.6 569.7 L961.27 571.53 L961.95 573.35 L962.62 575.17 L963.3 577 L964.2 579.1 L965.1 581.2 L966 583.3 L968.7 585.1 L970.78 585.5 L972.85 586.18 L974.92 588.81 L977 588.75 L978.88 588.56 L980.75 591 L982.62 592.55 L984.5 592.5 L986.58 592.44 L988.67 593.94 L990.75 595.88 L992.83 596.19 L994.92 596.28 L997 597.5 L999 596.07 L1001 597.79 L1003 597.76 L1005 599.28 L1007 598.75 L1009 598.24 L1011 598.91 L1013 600.05 L1015 600.9 L1017 600 L1019 599.21 L1021 599.08 L1023 599.54 L1025 600.57 L1027 598.75 L1029 597.52 L1031 600.64 L1033 599.6 L1035 598.24 L1037 598.75 L1039 599.61 L1041 598.62 L1043 597.92 L1045 600.69 L1047 600 L1049 599.31 L1051 599.6 L1053 599.24 L1055 600.48 L1057 598.75 L1059 599.95 L1061 597.5 L1063 599.84 L1065 599.61 L1067 600 L1069 599.61 L1071 600.75 L1073 598.94 L1075 598.9 L1077 598.75 L1079 600.31 L1081 598.51 L1083 598.72 L1085 598.8 L1087 598.75 L1089 600.05 L1091 599.43 L1093 599.71 L1095 598.36 L1097 598.75 L1099 596.81 L1101 598.91 L1103 598.2 L1105 598.74 L1107 597.5 L1109 598.79 L1111 596.78 L1113 597.47 L1115 598.8 L1116.8 596.86 L1118.6 598.61 L1120.4 597 L1122.23 595.13 L1124.07 594.49 L1125.9 595.2 L1127.7 596.21 L1129.5 595.2 L1131.3 595.87 L1133.1 596.1 L1134.5 593.85 L1135.9 591.6 L1136.58 589.33 L1137.25 587.05 L1137.92 584.77 L1138.6 582.5 L1138.94 580.46 L1139.27 578.42 L1139.61 576.39 L1139.95 574.35 L1140.29 572.31 L1140.62 570.28 L1140.96 568.24 L1141.3 566.2 L1141.56 564.13 L1141.81 562.06 L1142.07 559.99 L1142.33 557.91 L1142.59 555.84 L1142.84 553.77 L1143.1 551.7 L1143.36 549.36 L1143.61 547.01 L1143.87 544.67 L1144.13 542.33 L1144.39 539.99 L1144.64 537.64 L1144.9 535.3 L1145.28 533.12 L1145.66 530.94 L1146.04 528.76 L1146.42 526.58 L1146.8 524.4 L1147.34 522.22 L1147.88 520.04 L1148.42 517.86 L1148.96 515.68 L1149.5 513.5 L1149.95 511.25 L1150.4 509 L1150.85 506.75 L1151.3 504.5 L1152.03 502.17 L1152.77 499.83 L1153.5 497.5 L1154.4 499.15 L1155.3 500.8 L1156.07 503.23 L1156.83 505.67 L1157.6 508.1 L1158.3 510.38 L1159 512.65 L1159.7 514.93 L1160.4 517.2 L1160.85 519.48 L1161.3 521.75 L1161.75 524.02 L1162.2 526.3 L1162.4 528.51 L1162.6 530.72 L1162.8 532.93 L1163 535.14 L1163.2 537.36 L1163.4 539.57 L1163.6 541.78 L1163.8 543.99 L1164 546.2 L1164.36 548.38 L1164.72 550.56 L1165.08 552.74 L1165.44 554.92 L1165.8 557.1 L1166.4 558.9 L1167 560.7 L1167.6 562.5 L1167.96 564.68 L1168.32 566.86 L1168.68 569.04 L1169.04 571.22 L1169.4 573.4 L1170.1 575.23 L1170.8 577.05 L1171.5 578.88 L1172.2 580.7 L1173.4 582.57 L1174.6 583.75 L1175.8 585.2 L1177 586.98 L1178.2 588.27 L1179.4 589.8 L1181.2 591.86 L1183 593.4 L1184.85 595.47 L1186.7 597 L1188.95 596.73 L1191.2 597.9 L1193.03 598 L1194.87 600.64 L1196.7 600.6 L1198.5 600.13 L1200.3 603.17 L1202.1 602.5 L1204.5 601.25 L1206.58 600.36 L1208.67 600.17 L1210.75 600.36 L1212.83 603.15 L1214.92 603.98 L1217 602.5 L1219 602.44 L1221 603.59 L1223 602.36 L1225 605 L1227 603.75 L1229 604.49 L1231 602.37 L1233 601.98 L1235 604.53 L1237 603.75 L1239 602.31 L1241 605.49 L1243 603.74 L1245 603.76 L1247 605 L1249 605.55 L1251 604.83 L1253 605.97 L1255 604.72 L1257 606.25 L1259 607.67 L1261 605.28 L1263 607.1 L1265 604.32 L1267 605.5 L1269 606.56 L1271 607.16 L1273 604.78 L1275 603.29 L1277 605 L1279 604.63 L1281 605.75 L1283 604.23 L1285 605.58 L1287 605.5 L1289 603.7 L1291 604.67 L1293 605.26 L1295 603.85 L1297 603.75 L1299.38 604.97 L1301.75 603.71 L1304.12 606.72 L1306.5 606.25" fill="none" stroke="#231f20" stroke-width="3.4" stroke-linejoin="round" stroke-linecap="round"/>
<path d="M753.5 29.5 L753.52 31.71 L753.55 33.91 L753.57 36.12 L753.6 38.33 L753.62 40.54 L753.65 42.74 L753.67 44.95 L753.7 47.16 L753.72 49.37 L753.74 51.57 L753.77 53.78 L753.79 55.99 L753.82 58.2 L753.84 60.4 L753.87 62.61 L753.89 64.82 L753.91 67.02 L753.94 69.23 L753.96 71.44 L753.99 73.65 L754.01 75.85 L754.04 78.06 L754.06 80.27 L754.09 82.48 L754.11 84.68 L754.13 86.89 L754.16 89.1 L754.18 91.3 L754.21 93.51 L754.23 95.72 L754.26 97.93 L754.28 100.13 L754.3 102.34 L754.33 104.55 L754.35 106.76 L754.38 108.96 L754.4 111.17 L754.43 113.38 L754.45 115.59 L754.48 117.79 L754.5 120 L754.53 122.2 L754.57 124.41 L754.6 126.61 L754.64 128.81 L754.67 131.02 L754.7 133.22 L754.74 135.42 L754.77 137.63 L754.81 139.83 L754.84 142.03 L754.87 144.24 L754.91 146.44 L754.94 148.64 L754.97 150.85 L755.01 153.05 L755.04 155.25 L755.08 157.46 L755.11 159.66 L755.14 161.86 L755.18 164.07 L755.21 166.27 L755.25 168.47 L755.28 170.68 L755.31 172.88 L755.35 175.08 L755.38 177.29 L755.42 179.49 L755.45 181.69 L755.48 183.9 L755.52 186.1 L755.55 188.31 L755.58 190.51 L755.62 192.71 L755.65 194.92 L755.69 197.12 L755.72 199.32 L755.75 201.53 L755.79 203.73 L755.82 205.93 L755.86 208.14 L755.89 210.34 L755.92 212.54 L755.96 214.75 L755.99 216.95 L756.03 219.15 L756.06 221.36 L756.09 223.56 L756.13 225.76 L756.16 227.97 L756.19 230.17 L756.23 232.37 L756.26 234.58 L756.3 236.78 L756.33 238.98 L756.36 241.19 L756.4 243.39 L756.43 245.59 L756.47 247.8 L756.5 250 L756.58 252.19 L756.66 254.38 L756.73 256.56 L756.81 258.75 L756.89 260.94 L756.97 263.12 L757.05 265.31 L757.12 267.5 L757.2 269.69 L757.28 271.88 L757.36 274.06 L757.44 276.25 L757.52 278.44 L757.59 280.62 L757.67 282.81 L757.75 285 L757.83 287.19 L757.91 289.38 L757.98 291.56 L758.06 293.75 L758.14 295.94 L758.22 298.12 L758.3 300.31 L758.38 302.5 L758.45 304.69 L758.53 306.88 L758.61 309.06 L758.69 311.25 L758.77 313.44 L758.84 315.62 L758.92 317.81 L759 320 L759.11 322.24 L759.23 324.48 L759.34 326.72 L759.45 328.96 L759.57 331.2 L759.68 333.44 L759.79 335.68 L759.91 337.92 L760.02 340.16 L760.13 342.4 L760.25 344.64 L760.36 346.88 L760.47 349.12 L760.59 351.36 L760.7 353.6 L761 355.72 L761.3 357.83 L761.6 359.95 L761.9 362.07 L762.2 364.18 L762.5 366.3 L762.76 368.37 L763.01 370.44 L763.27 372.51 L763.53 374.59 L763.79 376.66 L764.04 378.73 L764.3 380.8 L764.57 382.87 L764.84 384.94 L765.11 387.01 L765.39 389.09 L765.66 391.16 L765.93 393.23 L766.2 395.3 L766.65 397.32 L767.1 399.35 L767.55 401.38 L768 403.4 L770.7 404.4 L771.6 406.8 L772.5 409.2 L773.4 411.6 L776.1 413.4 L776.8 415.67 L777.5 417.95 L778.2 420.23 L778.9 422.5 L779.8 424.9 L780.7 427.3 L781.6 429.7 L782.5 431.53 L783.4 433.37 L784.3 435.2 L784.97 437.48 L785.65 439.75 L786.33 442.02 L787 444.3 L788.8 444.9 L790.6 446.1 L791.83 447.87 L793.07 449.38 L794.3 450.6 L795.65 452.85 L797 455.1 L798.8 456.14 L800.6 454.2 L802.4 455.75 L804.2 455.1 L806.05 455.8 L807.9 457 L809.1 458.7 L810.3 460.64 L811.5 462.4 L813.3 461.76 L815.1 459.7 L816.95 459.61 L818.8 460.6 L820.6 459.45 L822.4 457.9 L824.2 459.96 L826 460.6 L828 461.09 L830 459.6 L832.7 458.7 L834.05 459.4 L835.4 461.5 L836.8 460.08 L838.2 458.7 L839.55 456.45 L840.9 454.2 L841.8 452.4 L842.7 450.6 L843.6 448.8 L845.4 449.98 L847.2 451.5 L848.55 450.31 L849.9 448.8 L851.75 446.89 L853.6 445.1 L854.5 446.93 L855.4 448.77 L856.3 450.6 L858.1 449.3 L859.9 448.8 L861.75 450.66 L863.6 450.6 L864.5 448.77 L865.4 446.93 L866.3 445.1 L867.65 445.13 L869 447 L869.9 445.17 L870.8 443.33 L871.7 441.5 L873.05 440.06 L874.4 438.8 L876.25 437.25 L878.1 435.2 L879.45 434.23 L880.8 432.4 L883.5 430.6 L884.85 428.55 L886.2 427 L887.1 425.2 L888 423.4 L888.9 421.6 L890.3 419.97 L891.7 417.9 L894.4 418.8 L896.2 417.03 L898 417 L898.9 419.13 L899.8 421.27 L900.7 423.4 L901.6 425.8 L902.5 428.2 L903.4 430.6 L904.33 432.43 L905.25 434.25 L906.17 436.07 L907.1 437.9 L909.8 436.1 L910.47 434.28 L911.15 432.45 L911.83 430.62 L912.5 428.8 L913.4 426.4 L914.3 424 L915.2 421.6 L916.43 419.68 L917.67 418.03 L918.9 416.1 L919.8 414.3 L920.7 412.5 L921.6 410.7 L922.27 408.88 L922.95 407.05 L923.62 405.22 L924.3 403.4 L926.1 401.53 L927.9 399.8 L928.6 397.98 L929.3 396.15 L930 394.32 L930.7 392.5 L931.6 390.25 L932.5 388 L933.1 385.9 L933.7 383.8 L934.3 381.7 L935.65 383.51 L937 385.3 L939.7 387.1 L940 384.98 L940.3 382.87 L940.6 380.75 L940.9 378.63 L941.2 376.52 L941.5 374.4 L941.76 372.33 L942.01 370.26 L942.27 368.19 L942.53 366.11 L942.79 364.04 L943.04 361.97 L943.3 359.9 L943.54 357.64 L943.77 355.38 L944.01 353.11 L944.25 350.85 L944.49 348.59 L944.73 346.32 L944.96 344.06 L945.2 341.8 L946.3 339 L947.5 339.5 L947.83 341.88 L948.15 344.25 L948.47 346.62 L948.8 349 L948.98 351.18 L949.16 353.36 L949.34 355.54 L949.52 357.72 L949.7 359.9 L949.88 362.08 L950.06 364.26 L950.24 366.44 L950.42 368.62 L950.6 370.8 L950.83 373.06 L951.05 375.32 L951.27 377.59 L951.5 379.85 L951.73 382.11 L951.95 384.38 L952.17 386.64 L952.4 388.9 L952.6 391.12 L952.8 393.34 L953 395.57 L953.2 397.79 L953.4 400.01 L953.6 402.23 L953.8 404.46 L954 406.68 L954.2 408.9 L954.46 410.97 L954.71 413.04 L954.97 415.11 L955.23 417.19 L955.49 419.26 L955.74 421.33 L956 423.4 L956.47 425.52 L956.93 427.63 L957.4 429.75 L957.87 431.87 L958.33 433.98 L958.8 436.1 L959.47 438.35 L960.15 440.6 L960.83 442.85 L961.5 445.1 L962.4 446.93 L963.3 448.77 L964.2 450.6 L964.88 452.62 L965.55 454.65 L966.23 456.68 L966.9 458.7 L968.25 461 L969.6 463.3 L972.05 462.75 L974.5 465 L976.38 464.98 L978.25 465.88 L980.12 468.35 L982 467.5 L984 469.88 L986 469.24 L988 470.79 L990 473.58 L992 473.75 L994 473.57 L996 474.7 L998 475.81 L1000 475.55 L1002 477.5 L1004.08 476.81 L1006.17 477.52 L1008.25 477.7 L1010.33 480.07 L1012.42 477.67 L1014.5 478.75 L1016.58 477.43 L1018.67 479.87 L1020.75 477.94 L1022.83 479.18 L1024.92 478.22 L1027 477.5 L1029 478.78 L1031 477.32 L1033 476.97 L1035 479.45 L1037 478.75 L1039 478.39 L1041 478.47 L1043 478.63 L1045 478.68 L1047 477.5 L1049 476.6 L1051 476.95 L1053 479.17 L1055 477.62 L1057 477.5 L1059 476.47 L1061 477.48 L1063 475.86 L1065 477.5 L1067 476.25 L1069 474.42 L1071 477.56 L1073 476.52 L1075 475.66 L1077 476.25 L1079 477.62 L1081 474.89 L1083 474.55 L1085 473.66 L1087 475 L1089 475.19 L1091 476.01 L1093 475.71 L1095 474.65 L1097 475 L1099 475.54 L1101 472.69 L1103 472.85 L1105 473.49 L1107 472.5 L1109 473.81 L1111 472.28 L1113 472.13 L1115 471.1 L1116.8 473.03 L1118.6 473.8 L1120.13 472.14 L1121.67 471.48 L1123.2 469.3 L1124.7 468.54 L1126.2 466.53 L1127.7 465.6 L1129.05 466.85 L1130.4 468.4 L1132.25 469.89 L1134.1 469.3 L1134.77 467.48 L1135.45 465.65 L1136.12 463.82 L1136.8 462 L1137.47 459.73 L1138.15 457.45 L1138.83 455.17 L1139.5 452.9 L1139.8 450.78 L1140.1 448.67 L1140.4 446.55 L1140.7 444.43 L1141 442.32 L1141.3 440.2 L1141.56 438.13 L1141.81 436.06 L1142.07 433.99 L1142.33 431.91 L1142.59 429.84 L1142.84 427.77 L1143.1 425.7 L1143.32 423.44 L1143.55 421.18 L1143.78 418.91 L1144 416.65 L1144.22 414.39 L1144.45 412.12 L1144.68 409.86 L1144.9 407.6 L1145.22 405.48 L1145.53 403.37 L1145.85 401.25 L1146.17 399.13 L1146.48 397.02 L1146.8 394.9 L1147.14 392.62 L1147.47 390.35 L1147.81 388.07 L1148.15 385.8 L1148.49 383.52 L1148.83 381.25 L1149.16 378.97 L1149.5 376.7 L1149.8 374.58 L1150.1 372.47 L1150.4 370.35 L1150.7 368.23 L1151 366.12 L1151.3 364 L1151.66 361.64 L1152.02 359.28 L1152.38 356.92 L1152.74 354.56 L1153.1 352.2 L1155.8 351.3 L1157.15 353.32 L1158.5 355 L1158.77 357.33 L1159.04 359.66 L1159.31 361.99 L1159.59 364.31 L1159.86 366.64 L1160.13 368.97 L1160.4 371.3 L1160.62 373.56 L1160.85 375.82 L1161.08 378.09 L1161.3 380.35 L1161.53 382.61 L1161.75 384.88 L1161.98 387.14 L1162.2 389.4 L1162.33 391.49 L1162.46 393.57 L1162.59 395.66 L1162.71 397.74 L1162.84 399.83 L1162.97 401.91 L1163.1 404 L1163.4 406.12 L1163.7 408.23 L1164 410.35 L1164.3 412.47 L1164.6 414.58 L1164.9 416.7 L1165.29 418.77 L1165.67 420.84 L1166.06 422.91 L1166.44 424.99 L1166.83 427.06 L1167.21 429.13 L1167.6 431.2 L1167.9 433.32 L1168.2 435.43 L1168.5 437.55 L1168.8 439.67 L1169.1 441.78 L1169.4 443.9 L1170.1 445.7 L1170.8 447.5 L1171.5 449.3 L1172.2 451.1 L1173.1 452.93 L1174 454.75 L1174.9 456.57 L1175.8 458.4 L1176.7 460.2 L1177.6 462 L1178.5 463.8 L1179.4 465.6 L1180.6 467 L1181.8 469.06 L1183 470.2 L1184.85 469.91 L1186.7 472 L1188.95 472.37 L1191.2 472.9 L1193.03 472.78 L1194.87 474.57 L1196.7 475.6 L1198.5 477 L1200.3 477.97 L1202.1 478.3 L1204.55 478.35 L1207 478.75 L1209 477.92 L1211 477.11 L1213 477.64 L1215 476.95 L1217 477.5 L1219 476.62 L1221 478.87 L1223 478.31 L1225 478.27 L1227 478.75 L1229 477.89 L1231 480 L1233 478.38 L1235 478.89 L1237 480 L1239 480.93 L1241 482.12 L1243 483.7 L1245 483.76 L1247 483.75 L1249 485.15 L1251 484.8 L1253 483.82 L1255 483.56 L1257 482.5 L1259 480.75 L1261 481.32 L1263 480.55 L1265 483.95 L1267 482.5 L1269 483.39 L1271 483.02 L1273 481.56 L1275 481.92 L1277 482.5 L1279 481.15 L1281 483.03 L1283 484.47 L1285 481.72 L1287 482.5 L1289 480.57 L1291 480.8 L1293 481.22 L1295 482.97 L1297 481.25 L1299.19 482.22 L1301.38 480.7 L1303.56 479.18 L1305.75 480.5" fill="none" stroke="#231f20" stroke-width="3.4" stroke-linejoin="round" stroke-linecap="round"/>
<path d="M759 29.5 L759.03 31.7 L759.06 33.91 L759.09 36.11 L759.12 38.31 L759.16 40.52 L759.19 42.72 L759.22 44.92 L759.25 47.12 L759.28 49.33 L759.31 51.53 L759.34 53.73 L759.38 55.94 L759.41 58.14 L759.44 60.34 L759.47 62.55 L759.5 64.75 L759.53 66.95 L759.56 69.16 L759.59 71.36 L759.62 73.56 L759.66 75.77 L759.69 77.97 L759.72 80.17 L759.75 82.38 L759.78 84.58 L759.81 86.78 L759.84 88.98 L759.88 91.19 L759.91 93.39 L759.94 95.59 L759.97 97.8 L760 100 L760.05 102.17 L760.1 104.35 L760.16 106.52 L760.21 108.7 L760.26 110.87 L760.31 113.04 L760.37 115.22 L760.42 117.39 L760.47 119.57 L760.52 121.74 L760.57 123.91 L760.63 126.09 L760.68 128.26 L760.73 130.43 L760.78 132.61 L760.83 134.78 L760.89 136.96 L760.94 139.13 L760.99 141.3 L761.04 143.48 L761.1 145.65 L761.15 147.83 L761.2 150 L761.27 152.25 L761.33 154.5 L761.39 156.75 L761.46 159 L761.53 161.25 L761.59 163.5 L761.65 165.75 L761.72 168 L761.79 170.25 L761.85 172.5 L761.92 174.75 L761.98 177 L762.05 179.25 L762.11 181.5 L762.17 183.75 L762.24 186 L762.31 188.25 L762.37 190.5 L762.43 192.75 L762.5 195 L762.65 197.27 L762.8 199.53 L762.95 201.8 L763.1 204.07 L763.25 206.33 L763.4 208.6 L763.55 210.87 L763.7 213.13 L763.85 215.4 L764 217.67 L764.15 219.93 L764.3 222.2 L764.46 224.47 L764.62 226.73 L764.77 229 L764.93 231.27 L765.09 233.53 L765.25 235.8 L765.41 238.07 L765.57 240.33 L765.73 242.6 L765.88 244.87 L766.04 247.13 L766.2 249.4 L766.46 251.47 L766.71 253.54 L766.97 255.61 L767.23 257.69 L767.49 259.76 L767.74 261.83 L768 263.9 L768.33 266.1 L768.66 268.3 L768.99 270.5 L769.31 272.7 L769.64 274.9 L769.97 277.1 L770.3 279.3 L771.85 281.26 L773.4 281.1 L776.1 282 L776.73 284.43 L777.37 286.87 L778 289.3 L778.45 291.35 L778.9 293.4 L779.35 295.45 L779.8 297.5 L780.7 299.6 L781.6 301.7 L782.5 303.8 L783.4 305.63 L784.3 307.47 L785.2 309.3 L785.8 311.1 L786.4 312.9 L787 314.7 L787.45 316.98 L787.9 319.25 L788.35 321.52 L788.8 323.8 L790.2 325.29 L791.6 325.6 L792.95 327.08 L794.3 329.2 L796.1 331.25 L797.9 331.9 L798.8 334.03 L799.7 336.17 L800.6 338.3 L802.4 336.79 L804.2 338.3 L805.6 339.56 L807 340.1 L808.8 340.19 L810.6 341.9 L811.8 340.34 L813 338.56 L814.2 337.4 L816 339.46 L817.8 338.3 L819.65 339.33 L821.5 340.1 L824.2 341 L825.1 339.2 L826 337.4 L826.9 335.6 L830 334.6 L831.8 334.93 L833.6 333.7 L834.83 335.83 L836.07 337.97 L837.3 340.1 L838.65 337.85 L840 335.6 L840.67 333.78 L841.35 331.95 L842.03 330.12 L842.7 328.3 L844.5 326.89 L846.3 328.3 L848.1 329.49 L849.9 330.1 L852.2 332.45 L854.5 331.9 L857.2 333.7 L858.55 332.08 L859.9 330.1 L861.25 330.71 L862.6 332.8 L863.52 330.77 L864.45 328.75 L865.38 326.73 L866.3 324.7 L868.55 324.1 L870.8 322.9 L872.6 321.08 L874.4 319.2 L876.25 318.6 L878.1 318.3 L879.9 318.95 L881.7 320.1 L882.3 317.7 L882.9 315.3 L883.5 312.9 L884.85 311.38 L886.2 309.3 L886.88 307.48 L887.55 305.65 L888.23 303.82 L888.9 302 L889.83 299.9 L890.77 297.8 L891.7 295.7 L892.6 297.8 L893.5 299.9 L894.4 302 L896.2 301.39 L898 299.3 L898.9 301.4 L899.8 303.5 L900.7 305.6 L903.4 304.7 L904.33 306.83 L905.27 308.97 L906.2 311.1 L908.9 311.1 L910.25 309.22 L911.6 307.4 L913.4 307.07 L915.2 305.6 L916.13 303.8 L917.07 302 L918 300.2 L919.35 298.3 L920.7 296.6 L921.15 294.33 L921.6 292.05 L922.05 289.77 L922.5 287.5 L923.85 286.02 L925.2 283.9 L925.88 282.07 L926.55 280.25 L927.23 278.43 L927.9 276.6 L928.5 274.2 L929.1 271.8 L929.7 269.4 L931.1 268.38 L932.5 266.6 L933.27 264.5 L934.03 262.4 L934.8 260.3 L935.9 262.1 L937 263.9 L938.35 261.83 L939.7 261.2 L940.06 258.84 L940.42 256.48 L940.78 254.12 L941.14 251.76 L941.5 249.4 L941.73 247.14 L941.95 244.88 L942.17 242.61 L942.4 240.35 L942.62 238.09 L942.85 235.83 L943.07 233.56 L943.3 231.3 L943.57 229.23 L943.84 227.16 L944.11 225.09 L944.39 223.01 L944.66 220.94 L944.93 218.87 L945.2 216.8 L945.75 214.4 L946.3 212 L947.5 212 L947.83 214.1 L948.15 216.2 L948.47 218.3 L948.8 220.4 L949.06 222.73 L949.31 225.06 L949.57 227.39 L949.83 229.71 L950.09 232.04 L950.34 234.37 L950.6 236.7 L950.83 238.96 L951.05 241.22 L951.27 243.49 L951.5 245.75 L951.73 248.01 L951.95 250.28 L952.17 252.54 L952.4 254.8 L952.62 257.07 L952.85 259.35 L953.08 261.62 L953.3 263.9 L953.52 266.18 L953.75 268.45 L953.98 270.73 L954.2 273 L954.43 275.26 L954.65 277.52 L954.88 279.79 L955.1 282.05 L955.33 284.31 L955.55 286.58 L955.77 288.84 L956 291.1 L956.27 293.43 L956.54 295.76 L956.81 298.09 L957.09 300.41 L957.36 302.74 L957.63 305.07 L957.9 307.4 L958.44 309.58 L958.98 311.76 L959.52 313.94 L960.06 316.12 L960.6 318.3 L961.27 320.57 L961.95 322.85 L962.62 325.12 L963.3 327.4 L964.2 329.8 L965.1 332.2 L966 334.6 L967.2 336.38 L968.4 338.19 L969.6 340.1 L972.05 340.75 L974.5 342.5 L976.38 343.54 L978.25 345.44 L980.12 346.12 L982 347.5 L983.88 349.28 L985.75 349.05 L987.62 352.26 L989.5 352.5 L991.38 352.63 L993.25 354.8 L995.12 352.89 L997 355 L998.88 356.84 L1000.75 356.12 L1002.62 358.79 L1004.5 358.75 L1006.5 360.27 L1008.5 360.33 L1010.5 359.5 L1012.5 359.1 L1014.5 361.25 L1016.58 359.75 L1018.67 361.83 L1020.75 358.8 L1022.83 360.14 L1024.92 359.47 L1027 358.75 L1029.14 359.83 L1031.29 358.74 L1033.43 359.15 L1035.57 359.53 L1037.71 363.06 L1039.86 361.57 L1042 362.5 L1044.14 362.69 L1046.29 362.04 L1048.43 360.44 L1050.57 359.51 L1052.71 358.98 L1054.86 361.62 L1057 360 L1059 358.52 L1061 361.85 L1063 359.45 L1065 360.89 L1067 360 L1069.08 358.44 L1071.17 360.66 L1073.25 358.44 L1075.33 358.67 L1077.42 359.04 L1079.5 358.75 L1081.58 357.2 L1083.67 357.74 L1085.75 359.93 L1087.83 357.89 L1089.92 358.27 L1092 358.75 L1094 359.14 L1096 356.82 L1098 356.22 L1100 355.8 L1102 356.25 L1104 355.57 L1106 355.25 L1108 356.02 L1110 355.15 L1112 355 L1115 354.7 L1116.8 355.27 L1118.6 352.08 L1120.4 352.9 L1122.23 353.19 L1124.07 353.51 L1125.9 352 L1128.6 350.6 L1131.3 351.1 L1132.7 349.07 L1134.1 349.3 L1134.77 347.48 L1135.45 345.65 L1136.12 343.82 L1136.8 342 L1137.34 339.82 L1137.88 337.64 L1138.42 335.46 L1138.96 333.28 L1139.5 331.1 L1139.84 328.84 L1140.17 326.58 L1140.51 324.31 L1140.85 322.05 L1141.19 319.79 L1141.53 317.52 L1141.86 315.26 L1142.2 313 L1142.47 310.82 L1142.74 308.64 L1143.01 306.46 L1143.28 304.28 L1143.55 302.1 L1143.82 299.92 L1144.09 297.74 L1144.36 295.56 L1144.63 293.38 L1144.9 291.2 L1145.22 289.08 L1145.53 286.97 L1145.85 284.85 L1146.17 282.73 L1146.48 280.62 L1146.8 278.5 L1147.4 276.1 L1148 273.7 L1148.6 271.3 L1148.9 269.17 L1149.2 267.03 L1149.5 264.9 L1149.8 262.77 L1150.1 260.63 L1150.4 258.5 L1150.7 256.38 L1151 254.27 L1151.3 252.15 L1151.6 250.03 L1151.9 247.92 L1152.2 245.8 L1152.65 243.78 L1153.1 241.75 L1153.55 239.72 L1154 237.7 L1155.8 235.5 L1156.4 237.73 L1157 239.97 L1157.6 242.2 L1158.07 244.47 L1158.55 246.75 L1159.03 249.03 L1159.5 251.3 L1159.95 253.57 L1160.4 255.85 L1160.85 258.12 L1161.3 260.4 L1161.52 262.66 L1161.75 264.92 L1161.97 267.19 L1162.2 269.45 L1162.42 271.71 L1162.65 273.98 L1162.88 276.24 L1163.1 278.5 L1163.32 280.77 L1163.55 283.05 L1163.78 285.32 L1164 287.6 L1164.22 289.88 L1164.45 292.15 L1164.68 294.43 L1164.9 296.7 L1165.58 298.95 L1166.25 301.2 L1166.92 303.45 L1167.6 305.7 L1167.94 307.75 L1168.27 309.8 L1168.61 311.85 L1168.95 313.9 L1169.29 315.95 L1169.62 318 L1169.96 320.05 L1170.3 322.1 L1170.86 324.28 L1171.42 326.46 L1171.98 328.64 L1172.54 330.82 L1173.1 333 L1174.3 334.91 L1175.5 336.53 L1176.7 338.4 L1177.6 340.2 L1178.5 342 L1179.4 343.8 L1180.3 345.6 L1181.65 346.99 L1183 348.4 L1184.4 350.65 L1185.8 352.9 L1187.6 354.13 L1189.4 354.7 L1191.2 354.19 L1193 355.6 L1194.83 357.44 L1196.67 356.65 L1198.5 358.4 L1201.2 360.64 L1203.9 359.3 L1207 358.75 L1209 359.37 L1211 359.41 L1213 362.41 L1215 361.2 L1217 362.5 L1219 362.13 L1221 361.87 L1223 363.17 L1225 360.59 L1227 362.5 L1229 362.29 L1231 361.75 L1233 364.46 L1235 361.66 L1237 363.75 L1239 363.68 L1241 362.04 L1243 362.28 L1245 362 L1246 359.5 L1247 357 L1247.67 359.33 L1248.33 361.67 L1249 364 L1252 365 L1254 363.96 L1256 363.48 L1258 366.84 L1260 363.6 L1262 365 L1264.17 363.35 L1266.33 364.41 L1268.5 364 L1269.62 361.5 L1270.75 359 L1271.58 361.42 L1272.42 363.83 L1273.25 366.25 L1275.44 365.19 L1277.62 364.92 L1279.81 366.59 L1282 366.25 L1284 365.82 L1286 365.41 L1288 366.93 L1290 365.85 L1292 365 L1294.5 366.21 L1297 366.42 L1299.5 364.5 L1301.83 363.99 L1304.17 366.78 L1306.5 365.5" fill="none" stroke="#231f20" stroke-width="3.4" stroke-linejoin="round" stroke-linecap="round"/>
<line x1="121.2" y1="532.5" x2="121.2" y2="672.5" stroke="#4a4a4a" stroke-width="1.15"/>
<line x1="141.3" y1="532.5" x2="141.3" y2="671.25" stroke="#4a4a4a" stroke-width="1.15"/>
<line x1="160.8" y1="304.6" x2="160.8" y2="436.25" stroke="#4a4a4a" stroke-width="1.15"/>
<line x1="190.5" y1="273" x2="190.5" y2="643.75" stroke="#4a4a4a" stroke-width="1.15"/>
<line x1="212.3" y1="231" x2="212.3" y2="237.5" stroke="#4a4a4a" stroke-width="1.15"/>
<line x1="212.3" y1="272" x2="212.3" y2="622.5" stroke="#4a4a4a" stroke-width="1.15"/>
<line x1="253.3" y1="196" x2="253.3" y2="615" stroke="#4a4a4a" stroke-width="1.15"/>
<line x1="264.7" y1="196" x2="264.7" y2="580" stroke="#4a4a4a" stroke-width="1.15"/>
<line x1="473.5" y1="220" x2="473.5" y2="585" stroke="#7a7a7a" stroke-width="1.0"/>
<line x1="541.5" y1="343.75" x2="541.5" y2="463.75" stroke="#4a4a4a" stroke-width="1.15"/>
<line x1="804.5" y1="551.25" x2="804.5" y2="676.25" stroke="#4a4a4a" stroke-width="1.15"/>
<line x1="825.25" y1="512" x2="825.25" y2="516.25" stroke="#4a4a4a" stroke-width="1.15"/>
<line x1="826" y1="545" x2="826" y2="667.5" stroke="#4a4a4a" stroke-width="1.15"/>
<line x1="842.75" y1="317" x2="842.75" y2="445" stroke="#4a4a4a" stroke-width="1.15"/>
<line x1="887.75" y1="516.25" x2="887.75" y2="657.5" stroke="#4a4a4a" stroke-width="1.15"/>
<line x1="894.5" y1="281.25" x2="894.5" y2="415" stroke="#4a4a4a" stroke-width="1.15"/>
<line x1="934" y1="206.25" x2="934" y2="638.75" stroke="#4a4a4a" stroke-width="1.15"/>
<line x1="945.5" y1="161.25" x2="945.5" y2="171.25" stroke="#4a4a4a" stroke-width="1.15"/>
<line x1="945.5" y1="206.25" x2="945.5" y2="597.5" stroke="#4a4a4a" stroke-width="1.15"/>
<line x1="1155.75" y1="218.75" x2="1155.75" y2="600" stroke="#7a7a7a" stroke-width="1.0"/>
<text transform="translate(456.75,107.67) scale(1,1.05)" font-size="29">300 K</text>
<text transform="translate(233,152.95) scale(1,1.05)" font-size="29">1423</text>
<text transform="translate(221.01,190.25) scale(1,1.05)" font-size="29">1342</text>
<text transform="translate(178.88,225.85) scale(1.01,1.05)" font-size="29">1060</text>
<text transform="translate(165.08,266.45) scale(1.02,1.05)" font-size="29">913</text>
<text transform="translate(137.4,297.35) scale(1,1.05)" font-size="29">705</text>
<text transform="translate(440.75,212.55) scale(1,1.05)" font-size="29">2866</text>
<text transform="translate(508.01,337.8) scale(0.99,1.05)" font-size="29">3336</text>
<text transform="translate(301.89,329.7) scale(1.01,1.05)" font-size="29">2.4 ML *20</text>
<text transform="translate(300.88,451.4) scale(1.01,1.05)" font-size="29">1.2 ML *20</text>
<text transform="translate(118.48,489.68) scale(1.02,1.05)" font-size="29">570</text>
<text transform="translate(99.5,526.8) scale(0.99,1.05)" font-size="29">430</text>
<text transform="translate(302.29,572.6) scale(1.01,1.05)" font-size="29">0.3 ML *20</text>
<text transform="translate(320.77,689.5) scale(1.01,1.05)" font-size="29">Mo<tspan dy="8.5" font-size="20">2</tspan><tspan dy="-8.5">C *20</tspan></text>
<text transform="translate(1140,107.05) scale(0.99,1.05)" font-size="29">400 K</text>
<text transform="translate(913.02,155.3) scale(0.99,1.05)" font-size="29">1423</text>
<text transform="translate(902.01,200.8) scale(1,1.05)" font-size="29">1336</text>
<text transform="translate(862.2,274.7) scale(1,1.05)" font-size="29">1060</text>
<text transform="translate(820.21,310.25) scale(0.99,1.05)" font-size="29">705</text>
<text transform="translate(1123.51,212.55) scale(0.99,1.05)" font-size="29">2866</text>
<text transform="translate(984.28,328.7) scale(1.02,1.05)" font-size="29">2.4 ML *20</text>
<text transform="translate(983.27,452.7) scale(1.01,1.05)" font-size="29">1.2 ML *20</text>
<text transform="translate(800.74,505.1) scale(0.98,1.05)" font-size="29">591</text>
<text transform="translate(855.57,509.5) scale(0.98,1.05)" font-size="29">1014</text>
<text transform="translate(782.1,545) scale(0.98,1.05)" font-size="29">436</text>
<text transform="translate(983.08,573.2) scale(1.02,1.05)" font-size="29">0.3 ML *20</text>
<text transform="translate(1003.58,693.3) scale(1.01,1.05)" font-size="29">Mo<tspan dy="8.5" font-size="20">2</tspan><tspan dy="-8.5">C *20</tspan></text>
<text transform="translate(51.08,799.6) scale(1.04,1.05)" font-size="29">0</text>
<text transform="translate(733.28,799.6) scale(1.04,1.05)" font-size="29">0</text>
<text transform="translate(171.19,799.6) scale(1,1.05)" font-size="29">1000</text>
<text transform="translate(853.39,799.6) scale(1,1.05)" font-size="29">1000</text>
<text transform="translate(315.19,799.6) scale(1.01,1.05)" font-size="29">2000</text>
<text transform="translate(997.39,799.6) scale(1.01,1.05)" font-size="29">2000</text>
<text transform="translate(459.7,799.6) scale(1,1.05)" font-size="29">3000</text>
<text transform="translate(1141.9,799.6) scale(1,1.05)" font-size="29">3000</text>
</svg></body></html>
